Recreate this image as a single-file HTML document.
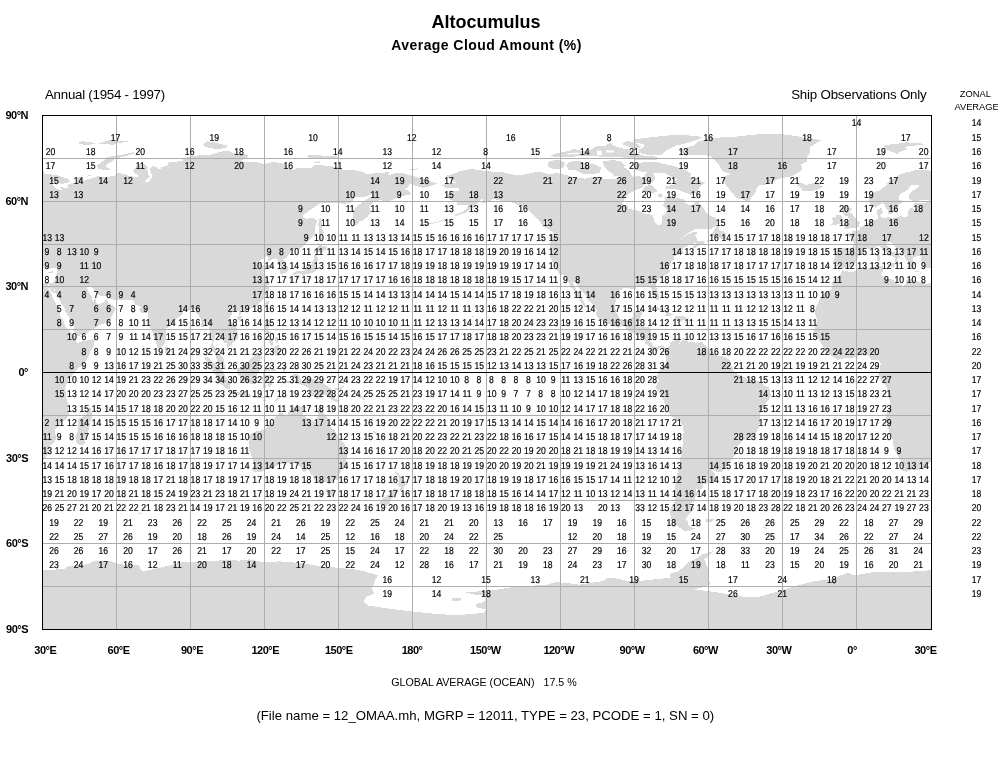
<!DOCTYPE html>
<html lang="en"><head><meta charset="utf-8"><title>Altocumulus - Average Cloud Amount</title>
<style>
html,body{margin:0;padding:0;background:#fff;}
body{width:998px;height:760px;overflow:hidden;position:relative;}
svg{position:absolute;left:0;top:0;display:block;will-change:transform;}
text{font-family:"Liberation Sans",sans-serif;fill:#000;}
.n{font-size:10px;text-anchor:middle;text-rendering:geometricPrecision;stroke:#000;stroke-width:0.2px;}
.b{font-weight:bold;font-size:11px;letter-spacing:-0.5px;}
.land{fill:#d9d9d9;stroke:none;shape-rendering:crispEdges;}
.g{stroke:#adadad;stroke-width:1;shape-rendering:crispEdges;}
.k{stroke:#000;stroke-width:1;shape-rendering:crispEdges;fill:none;}
</style></head>
<body>
<svg width="998" height="760" viewBox="0 0 998 760">
<defs><clipPath id="mapclip"><rect x="42.5" y="115.5" width="889.0" height="514.0"/></clipPath></defs>
<g clip-path="url(#mapclip)" class="land">
<polygon points="-46.1,270.3 -36.4,272.3 -34.0,271.7 -29.0,268.3 -24.1,267.4 -19.2,267.7 -14.2,266.8 -9.3,266.0 -6.8,266.0 -4.4,266.8 -5.6,268.6 -4.9,271.1 -6.6,274.6 -4.4,276.8 -1.9,278.8 1.1,278.6 5.5,280.0 6.7,282.6 11.7,284.3 15.4,286.0 17.8,284.0 18.1,280.6 21.5,278.6 25.2,279.4 30.2,281.7 35.1,283.1 40.0,284.3 42.5,282.8 45.0,282.6 48.2,283.4 48.7,286.8 48.9,288.3 50.4,292.0 51.9,294.8 52.9,297.7 54.8,301.7 56.3,304.3 59.5,309.7 60.3,312.5 60.5,316.2 63.5,321.1 65.4,327.4 69.6,331.1 73.3,334.8 75.3,336.8 75.1,339.7 77.0,342.5 79.5,342.5 84.4,340.8 89.4,340.2 94.8,338.8 94.5,342.5 93.1,346.8 90.6,351.1 88.1,356.8 85.7,361.1 82.0,365.4 80.2,366.8 75.8,371.1 73.3,373.9 70.9,377.6 68.4,379.9 67.2,382.5 65.9,385.9 64.7,389.6 65.7,392.5 65.9,396.8 67.2,401.6 68.4,403.9 68.4,409.6 68.9,415.3 65.9,419.6 61.0,422.5 58.5,426.2 54.8,429.3 55.3,433.9 56.1,439.6 53.6,443.0 49.9,445.3 49.4,449.6 48.4,454.2 45.7,457.3 42.5,461.6 38.8,465.6 35.1,468.2 31.9,469.6 26.5,469.9 22.8,470.2 17.8,471.9 14.1,470.4 13.4,466.2 13.6,462.4 11.2,458.2 9.2,454.2 6.0,449.6 5.3,443.9 4.3,437.9 1.8,432.5 -0.7,425.3 -2.4,421.0 -1.9,415.3 1.6,408.2 2.5,403.9 1.1,398.2 0.1,392.5 -1.2,389.6 -1.4,386.8 -3.1,383.9 -6.8,380.5 -8.8,376.8 -9.8,374.5 -8.1,371.1 -7.6,366.8 -7.3,363.4 -8.1,361.1 -10.5,359.6 -14.2,359.9 -16.7,360.2 -19.2,355.9 -20.6,354.5 -23.1,354.2 -27.8,354.8 -31.5,356.5 -36.4,358.8 -39.4,357.9 -41.4,357.7 -46.3,358.8 -50.0,359.9 -53.7,357.7 -58.1,354.5 -62.3,351.1 -64.1,348.2 -65.3,345.4 -68.0,341.7 -69.7,339.1 -72.7,337.1 -72.9,334.0 -74.7,330.5 -72.2,326.8 -71.0,321.1 -71.7,316.8 -73.4,312.5 -72.2,308.2 -71.0,304.8 -68.3,299.7 -67.0,297.4 -64.1,293.4 -59.9,291.7 -56.7,289.1 -55.4,285.7 -55.7,282.6 -53.7,278.8 -50.2,276.6 -48.3,275.1 -46.3,271.7"/>
<polygon points="841.9,270.3 851.6,272.3 854.0,271.7 859.0,268.3 863.9,267.4 868.8,267.7 873.8,266.8 878.7,266.0 881.2,266.0 883.6,266.8 882.4,268.6 883.1,271.1 881.4,274.6 883.6,276.8 886.1,278.8 889.1,278.6 893.5,280.0 894.7,282.6 899.7,284.3 903.4,286.0 905.8,284.0 906.1,280.6 909.5,278.6 913.2,279.4 918.2,281.7 923.1,283.1 928.0,284.3 930.5,282.8 933.0,282.6 936.2,283.4 936.7,286.8 936.9,288.3 938.4,292.0 939.9,294.8 940.9,297.7 942.8,301.7 944.3,304.3 947.5,309.7 948.3,312.5 948.5,316.2 951.5,321.1 953.4,327.4 957.6,331.1 961.3,334.8 963.3,336.8 963.1,339.7 965.0,342.5 967.5,342.5 972.4,340.8 977.4,340.2 982.8,338.8 982.5,342.5 981.1,346.8 978.6,351.1 976.1,356.8 973.7,361.1 970.0,365.4 968.2,366.8 963.8,371.1 961.3,373.9 958.9,377.6 956.4,379.9 955.2,382.5 953.9,385.9 952.7,389.6 953.7,392.5 953.9,396.8 955.2,401.6 956.4,403.9 956.4,409.6 956.9,415.3 953.9,419.6 949.0,422.5 946.5,426.2 942.8,429.3 943.3,433.9 944.1,439.6 941.6,443.0 937.9,445.3 937.4,449.6 936.4,454.2 933.7,457.3 930.5,461.6 926.8,465.6 923.1,468.2 919.9,469.6 914.5,469.9 910.8,470.2 905.8,471.9 902.1,470.4 901.4,466.2 901.6,462.4 899.2,458.2 897.2,454.2 894.0,449.6 893.3,443.9 892.3,437.9 889.8,432.5 887.3,425.3 885.6,421.0 886.1,415.3 889.6,408.2 890.5,403.9 889.1,398.2 888.1,392.5 886.8,389.6 886.6,386.8 884.9,383.9 881.2,380.5 879.2,376.8 878.2,374.5 879.9,371.1 880.4,366.8 880.7,363.4 879.9,361.1 877.5,359.6 873.8,359.9 871.3,360.2 868.8,355.9 867.4,354.5 864.9,354.2 860.2,354.8 856.5,356.5 851.6,358.8 848.6,357.9 846.6,357.7 841.7,358.8 838.0,359.9 834.3,357.7 829.9,354.5 825.7,351.1 823.9,348.2 822.7,345.4 820.0,341.7 818.3,339.1 815.3,337.1 815.1,334.0 813.3,330.5 815.8,326.8 817.0,321.1 816.3,316.8 814.6,312.5 815.8,308.2 817.0,304.8 819.7,299.7 821.0,297.4 823.9,293.4 828.1,291.7 831.3,289.1 832.6,285.7 832.3,282.6 834.3,278.8 837.8,276.6 839.7,275.1 841.7,271.7"/>
<polygon points="48.2,283.4 52.9,283.1 54.6,279.7 56.1,275.7 57.1,271.1 57.5,267.7 53.6,267.7 48.7,269.4 44.2,267.4 40.0,268.3 36.3,267.4 35.6,264.6 33.9,262.6 33.1,259.7 33.1,258.3 33.1,256.6 32.6,255.7 28.9,255.7 26.5,257.4 24.7,256.9 25.0,260.3 26.0,262.6 27.7,264.0 26.5,265.4 25.5,268.0 23.5,268.3 22.0,267.4 21.0,264.6 20.3,262.6 18.3,259.7 16.4,256.9 16.6,254.0 15.4,252.0 11.7,249.7 8.0,248.0 5.5,245.4 3.8,243.1 2.3,242.3 -1.2,243.1 -0.9,246.0 2.0,248.3 3.8,251.7 8.0,252.9 10.4,255.4 14.1,258.0 13.9,258.8 10.4,257.1 9.4,259.7 10.7,261.1 9.2,263.1 7.2,264.3 7.5,261.7 6.7,258.3 4.3,256.3 0.6,254.9 -1.4,253.1 -4.4,251.4 -6.1,248.3 -7.3,246.6 -9.8,245.7 -13.0,247.4 -16.7,249.4 -19.2,248.6 -21.6,248.3 -24.1,249.1 -23.9,251.4 -23.6,252.9 -26.1,254.6 -29.5,256.0 -31.5,259.7 -32.2,260.0 -31.0,261.7 -33.0,264.0 -35.9,266.3 -37.2,267.4 -42.4,267.7 -44.8,269.4 -47.0,268.3 -49.8,266.3 -53.5,266.8 -53.2,262.6 -54.9,261.7 -53.5,257.7 -53.0,254.9 -53.5,251.1 -54.2,249.4 -51.2,247.7 -46.3,248.0 -40.9,248.3 -35.9,248.6 -34.7,245.4 -34.2,242.3 -35.2,240.3 -36.9,237.7 -38.9,236.6 -42.4,235.7 -43.1,234.3 -40.1,233.1 -36.4,233.7 -35.4,233.4 -35.7,230.6 -34.5,231.4 -31.0,231.2 -27.8,229.4 -27.6,227.2 -23.6,225.7 -21.1,224.0 -19.7,221.2 -17.9,220.3 -14.2,220.0 -11.0,219.2 -10.0,218.0 -10.3,215.4 -11.5,213.7 -11.3,210.3 -10.3,209.4 -7.1,208.0 -5.4,207.7 -5.8,211.2 -4.6,212.0 -6.8,214.0 -7.6,215.4 -6.8,216.9 -4.6,218.3 -1.9,217.7 1.8,217.2 3.8,218.6 8.0,217.4 12.9,216.0 14.6,217.2 17.8,217.2 20.3,214.9 20.3,211.2 21.5,208.6 24.2,207.7 26.5,209.7 28.4,208.9 28.7,206.0 26.5,204.9 26.2,203.5 30.2,202.6 37.6,202.6 43.0,201.5 38.8,199.7 32.6,200.0 30.2,200.6 25.2,201.5 22.8,200.0 21.0,198.3 21.5,194.0 23.5,191.7 28.9,188.0 30.9,186.6 30.9,185.2 28.2,184.6 24.0,184.6 21.5,186.9 20.3,189.2 17.8,190.9 14.1,192.9 11.4,195.5 10.9,198.3 10.9,199.5 14.1,200.9 15.4,201.7 13.4,203.2 10.4,205.2 9.2,207.7 8.7,210.9 7.5,212.3 4.3,212.6 3.5,214.3 0.3,214.3 -0.7,212.0 0.1,210.6 -2.1,208.0 -3.9,204.3 -5.4,203.2 -5.4,201.5 -6.1,203.5 -8.1,204.6 -11.3,206.6 -14.2,206.9 -17.4,204.9 -18.7,202.6 -19.2,199.7 -19.2,196.9 -18.7,194.9 -15.5,193.2 -11.8,191.5 -8.1,190.6 -5.6,188.3 -1.9,185.5 0.1,182.6 3.0,180.3 5.5,178.3 9.2,176.3 12.9,174.0 17.8,172.6 22.8,171.5 27.7,170.0 32.1,169.5 37.6,169.8 42.5,170.9 45.0,171.8 43.7,173.2 49.9,174.3 57.3,175.2 63.5,177.2 68.4,179.2 69.9,181.7 67.2,183.2 62.2,183.7 56.1,182.6 49.9,181.7 48.7,180.9 52.4,183.5 54.3,186.9 56.1,188.6 61.0,190.0 62.2,189.2 59.8,186.9 63.5,187.5 68.4,188.3 67.2,185.5 72.1,182.9 77.0,183.5 77.5,181.2 76.5,177.8 79.5,176.9 83.2,178.3 83.2,181.2 86.9,179.5 93.1,177.8 99.2,176.0 102.9,177.5 109.1,176.6 114.0,176.0 116.5,173.5 119.0,173.2 126.4,174.6 128.8,176.0 133.8,176.6 137.5,177.5 138.7,175.8 135.0,173.5 133.3,170.3 135.0,168.3 138.0,164.6 139.9,163.8 144.9,164.3 147.8,166.9 147.3,169.8 148.1,174.0 149.8,176.9 146.1,179.8 144.9,182.6 148.6,181.7 151.0,178.9 152.3,176.0 151.0,172.6 149.8,169.2 152.3,166.0 156.0,166.9 158.4,169.2 160.9,169.2 160.9,166.9 167.1,166.0 168.3,162.6 175.7,161.8 183.1,160.6 183.1,158.3 190.5,156.6 200.4,155.2 210.2,154.6 217.6,152.6 225.0,150.6 230.0,151.5 234.9,153.5 244.8,154.1 248.5,156.0 244.8,158.9 239.8,161.2 247.2,162.0 259.6,162.6 263.3,164.0 271.9,162.3 279.3,162.6 285.5,164.6 287.9,168.3 292.9,169.8 296.6,168.3 304.0,168.0 311.4,168.3 313.8,165.8 316.3,164.6 328.6,166.0 338.5,167.2 343.4,169.8 353.3,169.8 363.2,172.0 365.6,174.0 373.0,173.5 382.9,172.6 389.1,172.3 387.8,175.5 395.2,173.2 402.6,173.2 410.0,175.2 412.5,175.8 422.4,178.9 429.8,181.2 437.7,183.7 432.2,185.5 423.6,188.0 415.0,185.5 410.0,183.5 407.6,187.7 405.1,188.6 410.0,192.0 411.3,194.3 402.6,196.0 395.2,198.3 389.1,201.2 380.4,200.3 374.3,201.5 371.3,204.0 369.3,207.4 371.3,212.0 368.1,216.0 363.2,220.6 359.5,221.4 355.0,226.9 353.3,222.6 353.3,216.9 352.3,211.2 355.8,207.4 361.9,202.6 365.6,199.7 371.8,196.9 371.8,194.0 364.4,196.9 355.8,196.9 350.8,202.6 343.4,204.0 336.0,202.6 326.2,203.2 320.0,203.5 313.8,207.4 307.7,211.7 302.2,216.0 306.4,218.9 312.6,217.7 316.8,220.6 316.3,224.0 315.1,226.9 315.1,232.6 312.6,236.9 308.9,240.6 304.0,245.4 299.0,249.7 294.1,249.1 290.9,251.7 288.4,255.4 286.7,257.4 283.0,259.7 285.5,262.6 287.7,266.8 287.7,270.3 286.7,272.3 283.0,273.4 280.3,274.0 280.0,270.3 281.0,266.8 278.1,264.6 276.8,262.0 278.1,259.4 275.1,258.3 270.7,260.3 267.7,261.7 268.9,258.3 267.0,256.0 263.3,258.8 259.1,261.1 259.6,263.4 262.0,266.0 265.7,264.6 270.7,265.7 269.4,267.4 265.2,269.7 262.8,272.6 265.0,275.4 266.7,278.8 269.2,282.0 269.2,284.3 265.7,286.0 269.4,287.4 268.7,291.1 266.2,293.1 263.8,298.3 262.0,300.5 259.6,302.8 256.4,306.0 252.2,307.7 250.2,308.8 248.5,309.4 244.8,310.5 241.1,312.0 240.8,314.5 239.3,314.5 239.1,311.1 236.1,310.5 232.4,312.5 231.7,314.5 229.2,318.2 231.2,321.7 233.7,325.4 235.6,326.8 237.4,329.7 238.1,335.4 237.9,338.2 236.9,340.2 232.9,342.8 231.7,344.8 228.7,347.1 227.0,347.9 227.3,343.9 224.5,342.5 222.3,339.4 220.8,337.7 217.6,336.2 217.4,334.0 215.2,334.2 214.9,338.2 213.4,342.5 213.4,346.2 215.7,348.5 216.4,351.9 218.9,353.1 221.3,355.4 223.6,359.1 223.6,362.5 224.8,365.4 225.8,368.5 223.6,368.5 220.1,365.9 218.4,364.2 216.9,361.1 216.2,356.8 215.2,353.9 213.2,351.1 211.0,349.7 211.0,346.8 211.7,342.5 211.5,338.2 210.7,334.0 209.5,329.7 209.2,325.7 207.3,324.2 203.8,327.1 201.1,326.8 201.6,322.5 200.9,318.8 199.1,316.0 196.7,313.4 195.4,310.5 194.9,308.5 191.7,308.8 188.0,310.2 185.6,310.5 183.1,311.7 182.6,314.0 180.6,316.0 178.2,317.4 175.7,320.2 173.7,322.5 171.5,324.8 168.8,326.8 166.3,328.2 166.1,332.5 166.6,335.4 165.6,339.7 165.3,343.1 163.4,345.4 161.4,347.1 159.7,349.4 157.2,346.8 156.5,343.9 154.7,339.1 153.0,335.4 152.3,331.1 150.5,328.2 149.1,324.0 148.3,318.2 147.8,314.0 147.6,311.1 146.6,312.5 143.6,313.4 141.2,312.5 138.7,309.1 141.9,307.1 137.5,305.4 135.0,304.3 133.8,301.7 132.5,300.0 127.6,300.3 121.4,300.5 116.5,300.0 112.8,299.4 109.8,298.8 108.6,295.4 104.2,296.3 100.5,296.0 96.8,293.4 94.3,291.1 93.1,288.3 90.6,286.3 88.9,286.0 86.9,287.4 87.9,290.8 89.4,294.0 91.8,296.5 92.3,299.7 93.8,301.7 94.5,298.5 95.8,299.1 95.5,302.3 96.8,303.7 100.5,303.7 102.9,302.8 105.4,300.0 107.1,297.7 107.6,301.1 109.1,304.0 112.8,305.1 116.0,308.2 113.5,313.4 111.1,318.2 109.1,321.1 105.4,323.1 101.7,324.0 97.3,326.8 91.8,329.7 88.1,332.5 83.2,334.2 79.5,335.9 76.0,336.2 75.1,334.0 74.1,330.0 73.8,325.7 72.1,322.5 70.1,319.1 67.9,315.4 65.2,311.4 64.2,306.8 61.0,303.1 58.5,298.3 56.1,293.7 54.3,292.5 54.8,288.3 53.6,292.5 53.1,293.1 51.1,291.1 49.4,287.4"/>
<polygon points="936.2,283.4 940.9,283.1 942.6,279.7 944.1,275.7 945.1,271.1 945.5,267.7 941.6,267.7 936.7,269.4 932.2,267.4 928.0,268.3 924.3,267.4 923.6,264.6 921.9,262.6 921.1,259.7 921.1,258.3 921.1,256.6 920.6,255.7 916.9,255.7 914.5,257.4 912.7,256.9 913.0,260.3 914.0,262.6 915.7,264.0 914.5,265.4 913.5,268.0 911.5,268.3 910.0,267.4 909.0,264.6 908.3,262.6 906.3,259.7 904.4,256.9 904.6,254.0 903.4,252.0 899.7,249.7 896.0,248.0 893.5,245.4 891.8,243.1 890.3,242.3 886.8,243.1 887.1,246.0 890.0,248.3 891.8,251.7 896.0,252.9 898.4,255.4 902.1,258.0 901.9,258.8 898.4,257.1 897.4,259.7 898.7,261.1 897.2,263.1 895.2,264.3 895.5,261.7 894.7,258.3 892.3,256.3 888.6,254.9 886.6,253.1 883.6,251.4 881.9,248.3 880.7,246.6 878.2,245.7 875.0,247.4 871.3,249.4 868.8,248.6 866.4,248.3 863.9,249.1 864.1,251.4 864.4,252.9 861.9,254.6 858.5,256.0 856.5,259.7 855.8,260.0 857.0,261.7 855.0,264.0 852.1,266.3 850.8,267.4 845.6,267.7 843.2,269.4 841.0,268.3 838.2,266.3 834.5,266.8 834.8,262.6 833.1,261.7 834.5,257.7 835.0,254.9 834.5,251.1 833.8,249.4 836.8,247.7 841.7,248.0 847.1,248.3 852.1,248.6 853.3,245.4 853.8,242.3 852.8,240.3 851.1,237.7 849.1,236.6 845.6,235.7 844.9,234.3 847.9,233.1 851.6,233.7 852.6,233.4 852.3,230.6 853.5,231.4 857.0,231.2 860.2,229.4 860.4,227.2 864.4,225.7 866.9,224.0 868.3,221.2 870.1,220.3 873.8,220.0 877.0,219.2 878.0,218.0 877.7,215.4 876.5,213.7 876.7,210.3 877.7,209.4 880.9,208.0 882.6,207.7 882.2,211.2 883.4,212.0 881.2,214.0 880.4,215.4 881.2,216.9 883.4,218.3 886.1,217.7 889.8,217.2 891.8,218.6 896.0,217.4 900.9,216.0 902.6,217.2 905.8,217.2 908.3,214.9 908.3,211.2 909.5,208.6 912.2,207.7 914.5,209.7 916.4,208.9 916.7,206.0 914.5,204.9 914.2,203.5 918.2,202.6 925.6,202.6 931.0,201.5 926.8,199.7 920.6,200.0 918.2,200.6 913.2,201.5 910.8,200.0 909.0,198.3 909.5,194.0 911.5,191.7 916.9,188.0 918.9,186.6 918.9,185.2 916.2,184.6 912.0,184.6 909.5,186.9 908.3,189.2 905.8,190.9 902.1,192.9 899.4,195.5 898.9,198.3 898.9,199.5 902.1,200.9 903.4,201.7 901.4,203.2 898.4,205.2 897.2,207.7 896.7,210.9 895.5,212.3 892.3,212.6 891.5,214.3 888.3,214.3 887.3,212.0 888.1,210.6 885.9,208.0 884.1,204.3 882.6,203.2 882.6,201.5 881.9,203.5 879.9,204.6 876.7,206.6 873.8,206.9 870.6,204.9 869.3,202.6 868.8,199.7 868.8,196.9 869.3,194.9 872.5,193.2 876.2,191.5 879.9,190.6 882.4,188.3 886.1,185.5 888.1,182.6 891.0,180.3 893.5,178.3 897.2,176.3 900.9,174.0 905.8,172.6 910.8,171.5 915.7,170.0 920.1,169.5 925.6,169.8 930.5,170.9 933.0,171.8 931.7,173.2 937.9,174.3 945.3,175.2 951.5,177.2 956.4,179.2 957.9,181.7 955.2,183.2 950.2,183.7 944.1,182.6 937.9,181.7 936.7,180.9 940.4,183.5 942.3,186.9 944.1,188.6 949.0,190.0 950.2,189.2 947.8,186.9 951.5,187.5 956.4,188.3 955.2,185.5 960.1,182.9 965.0,183.5 965.5,181.2 964.5,177.8 967.5,176.9 971.2,178.3 971.2,181.2 974.9,179.5 981.1,177.8 987.2,176.0 990.9,177.5 997.1,176.6 1002.0,176.0 1004.5,173.5 1007.0,173.2 1014.4,174.6 1016.8,176.0 1021.8,176.6 1025.5,177.5 1026.7,175.8 1023.0,173.5 1021.3,170.3 1023.0,168.3 1026.0,164.6 1027.9,163.8 1032.9,164.3 1035.8,166.9 1035.3,169.8 1036.1,174.0 1037.8,176.9 1034.1,179.8 1032.9,182.6 1036.6,181.7 1039.0,178.9 1040.3,176.0 1039.0,172.6 1037.8,169.2 1040.3,166.0 1044.0,166.9 1046.4,169.2 1048.9,169.2 1048.9,166.9 1055.1,166.0 1056.3,162.6 1063.7,161.8 1071.1,160.6 1071.1,158.3 1078.5,156.6 1088.4,155.2 1098.2,154.6 1105.6,152.6 1113.0,150.6 1118.0,151.5 1122.9,153.5 1132.8,154.1 1136.5,156.0 1132.8,158.9 1127.8,161.2 1135.2,162.0 1147.6,162.6 1151.3,164.0 1159.9,162.3 1167.3,162.6 1173.5,164.6 1175.9,168.3 1180.9,169.8 1184.6,168.3 1192.0,168.0 1199.4,168.3 1201.8,165.8 1204.3,164.6 1216.6,166.0 1226.5,167.2 1231.4,169.8 1241.3,169.8 1251.2,172.0 1253.6,174.0 1261.0,173.5 1270.9,172.6 1277.1,172.3 1275.8,175.5 1283.2,173.2 1290.6,173.2 1298.0,175.2 1300.5,175.8 1310.4,178.9 1317.8,181.2 1325.7,183.7 1320.2,185.5 1311.6,188.0 1303.0,185.5 1298.0,183.5 1295.6,187.7 1293.1,188.6 1298.0,192.0 1299.3,194.3 1290.6,196.0 1283.2,198.3 1277.1,201.2 1268.4,200.3 1262.3,201.5 1259.3,204.0 1257.3,207.4 1259.3,212.0 1256.1,216.0 1251.2,220.6 1247.5,221.4 1243.0,226.9 1241.3,222.6 1241.3,216.9 1240.3,211.2 1243.8,207.4 1249.9,202.6 1253.6,199.7 1259.8,196.9 1259.8,194.0 1252.4,196.9 1243.8,196.9 1238.8,202.6 1231.4,204.0 1224.0,202.6 1214.2,203.2 1208.0,203.5 1201.8,207.4 1195.7,211.7 1190.2,216.0 1194.4,218.9 1200.6,217.7 1204.8,220.6 1204.3,224.0 1203.1,226.9 1203.1,232.6 1200.6,236.9 1196.9,240.6 1192.0,245.4 1187.0,249.7 1182.1,249.1 1178.9,251.7 1176.4,255.4 1174.7,257.4 1171.0,259.7 1173.5,262.6 1175.7,266.8 1175.7,270.3 1174.7,272.3 1171.0,273.4 1168.3,274.0 1168.0,270.3 1169.0,266.8 1166.1,264.6 1164.8,262.0 1166.1,259.4 1163.1,258.3 1158.7,260.3 1155.7,261.7 1156.9,258.3 1155.0,256.0 1151.3,258.8 1147.1,261.1 1147.6,263.4 1150.0,266.0 1153.7,264.6 1158.7,265.7 1157.4,267.4 1153.2,269.7 1150.8,272.6 1153.0,275.4 1154.7,278.8 1157.2,282.0 1157.2,284.3 1153.7,286.0 1157.4,287.4 1156.7,291.1 1154.2,293.1 1151.8,298.3 1150.0,300.5 1147.6,302.8 1144.4,306.0 1140.2,307.7 1138.2,308.8 1136.5,309.4 1132.8,310.5 1129.1,312.0 1128.8,314.5 1127.3,314.5 1127.1,311.1 1124.1,310.5 1120.4,312.5 1119.7,314.5 1117.2,318.2 1119.2,321.7 1121.7,325.4 1123.6,326.8 1125.4,329.7 1126.1,335.4 1125.9,338.2 1124.9,340.2 1120.9,342.8 1119.7,344.8 1116.7,347.1 1115.0,347.9 1115.3,343.9 1112.5,342.5 1110.3,339.4 1108.8,337.7 1105.6,336.2 1105.4,334.0 1103.2,334.2 1102.9,338.2 1101.4,342.5 1101.4,346.2 1103.7,348.5 1104.4,351.9 1106.9,353.1 1109.3,355.4 1111.6,359.1 1111.6,362.5 1112.8,365.4 1113.8,368.5 1111.6,368.5 1108.1,365.9 1106.4,364.2 1104.9,361.1 1104.2,356.8 1103.2,353.9 1101.2,351.1 1099.0,349.7 1099.0,346.8 1099.7,342.5 1099.5,338.2 1098.7,334.0 1097.5,329.7 1097.2,325.7 1095.3,324.2 1091.8,327.1 1089.1,326.8 1089.6,322.5 1088.9,318.8 1087.1,316.0 1084.7,313.4 1083.4,310.5 1082.9,308.5 1079.7,308.8 1076.0,310.2 1073.6,310.5 1071.1,311.7 1070.6,314.0 1068.6,316.0 1066.2,317.4 1063.7,320.2 1061.7,322.5 1059.5,324.8 1056.8,326.8 1054.3,328.2 1054.1,332.5 1054.6,335.4 1053.6,339.7 1053.3,343.1 1051.4,345.4 1049.4,347.1 1047.7,349.4 1045.2,346.8 1044.5,343.9 1042.7,339.1 1041.0,335.4 1040.3,331.1 1038.5,328.2 1037.1,324.0 1036.3,318.2 1035.8,314.0 1035.6,311.1 1034.6,312.5 1031.6,313.4 1029.2,312.5 1026.7,309.1 1029.9,307.1 1025.5,305.4 1023.0,304.3 1021.8,301.7 1020.5,300.0 1015.6,300.3 1009.4,300.5 1004.5,300.0 1000.8,299.4 997.8,298.8 996.6,295.4 992.2,296.3 988.5,296.0 984.8,293.4 982.3,291.1 981.1,288.3 978.6,286.3 976.9,286.0 974.9,287.4 975.9,290.8 977.4,294.0 979.8,296.5 980.3,299.7 981.8,301.7 982.5,298.5 983.8,299.1 983.5,302.3 984.8,303.7 988.5,303.7 990.9,302.8 993.4,300.0 995.1,297.7 995.6,301.1 997.1,304.0 1000.8,305.1 1004.0,308.2 1001.5,313.4 999.1,318.2 997.1,321.1 993.4,323.1 989.7,324.0 985.3,326.8 979.8,329.7 976.1,332.5 971.2,334.2 967.5,335.9 964.0,336.2 963.1,334.0 962.1,330.0 961.8,325.7 960.1,322.5 958.1,319.1 955.9,315.4 953.2,311.4 952.2,306.8 949.0,303.1 946.5,298.3 944.1,293.7 942.3,292.5 942.8,288.3 941.6,292.5 941.1,293.1 939.1,291.1 937.4,287.4"/>
<polygon points="470.5,168.9 481.6,170.3 491.4,171.5 503.8,172.3 508.7,173.8 518.6,175.5 526.0,174.0 533.4,172.6 540.8,171.8 548.2,174.0 558.0,173.2 567.9,175.5 575.3,177.8 585.2,178.6 590.1,177.5 597.5,176.9 604.9,178.9 614.8,178.9 619.7,177.5 622.2,174.0 618.5,168.9 623.4,166.9 629.6,171.2 630.8,174.0 633.3,176.9 639.4,176.0 644.4,178.3 645.6,173.2 653.0,173.5 655.5,176.9 654.2,181.2 649.3,183.2 643.1,183.2 644.4,185.5 640.7,188.3 637.0,189.7 633.3,191.2 628.3,194.0 624.6,198.3 622.7,202.6 623.4,204.9 627.1,204.9 628.3,209.2 634.5,209.7 639.4,211.2 645.6,214.0 653.0,214.9 653.7,219.7 655.5,222.6 657.9,225.4 660.4,225.4 662.1,221.7 661.6,216.9 665.3,214.0 667.3,209.7 662.9,204.9 665.3,201.2 664.1,196.6 669.0,196.6 675.2,197.5 681.4,198.9 685.1,199.7 685.1,202.6 688.8,205.4 693.7,204.6 696.7,200.3 699.9,204.0 703.6,208.3 706.0,212.6 709.7,215.4 714.7,217.4 718.4,220.6 718.9,224.0 715.9,225.7 711.0,228.9 703.6,229.2 696.2,229.2 691.2,231.2 686.3,234.6 682.6,237.7 680.9,238.9 685.1,236.3 691.2,232.6 696.2,232.0 697.9,233.1 694.9,235.4 696.7,238.3 697.4,240.6 703.6,241.4 706.0,242.9 707.3,239.7 708.5,241.4 704.8,243.4 699.9,245.1 694.9,248.0 693.2,247.4 693.7,244.6 697.4,242.9 691.2,244.0 687.5,246.0 683.3,248.0 681.9,250.9 683.8,252.6 683.8,253.4 680.1,254.3 675.2,255.7 674.0,256.9 673.5,259.7 671.5,261.4 670.3,264.0 669.0,266.8 669.5,269.7 670.3,271.7 667.8,273.4 664.3,275.4 661.6,277.4 657.9,280.6 656.2,283.4 655.7,286.0 657.7,291.1 658.9,296.0 658.7,300.0 656.7,300.5 654.7,297.7 652.5,293.4 652.3,289.7 649.3,286.8 645.6,287.4 641.4,285.7 638.2,286.0 635.7,286.3 636.2,289.4 632.5,289.1 628.3,288.0 624.6,288.0 622.2,289.1 618.5,291.7 616.5,294.0 616.5,298.3 615.5,302.5 615.3,308.2 616.5,312.5 618.5,316.0 619.7,318.2 622.2,319.4 623.9,320.5 628.3,319.4 630.8,319.1 632.8,316.8 633.5,312.5 638.2,311.1 641.9,311.1 642.4,314.0 640.4,316.8 639.9,320.2 638.7,322.5 638.0,326.8 639.4,327.4 644.4,327.1 649.3,327.4 651.0,329.7 650.3,334.0 650.3,338.2 649.8,341.1 651.8,343.9 653.7,346.2 656.7,347.4 659.7,345.7 662.1,345.4 665.3,347.7 665.8,348.2 664.6,351.7 663.4,348.8 660.4,347.1 658.4,349.1 658.4,351.4 655.5,350.8 652.3,349.1 650.0,347.9 647.3,344.5 644.9,343.4 644.9,340.5 641.9,336.2 639.9,334.5 635.7,334.0 631.3,332.8 628.3,330.5 624.6,326.5 622.2,326.2 618.5,327.7 613.5,326.0 610.1,324.5 605.4,321.7 601.2,320.2 597.5,316.8 596.0,314.0 596.8,311.1 595.0,307.4 591.3,303.1 587.6,299.7 586.4,296.0 583.7,293.1 579.7,289.7 577.8,285.4 576.5,283.1 573.3,282.0 573.6,285.4 576.5,289.7 578.5,293.1 580.7,296.8 583.4,301.1 584.7,303.4 586.4,306.5 584.7,306.8 581.5,302.8 579.7,298.8 576.5,296.0 574.1,293.7 574.8,291.1 571.6,288.0 569.6,284.0 567.7,279.7 564.4,275.7 559.3,274.0 556.1,268.3 554.3,264.6 551.1,259.7 549.9,257.1 550.4,252.6 549.9,248.3 550.6,240.6 549.2,234.3 553.1,234.0 552.6,232.0 548.7,229.2 543.2,226.9 541.3,223.4 538.3,219.7 535.3,216.9 532.1,214.0 528.4,209.7 523.5,206.0 519.8,206.0 516.1,204.0 511.2,202.0 503.8,201.2 497.6,200.0 492.7,198.6 490.2,201.2 486.5,202.9 482.1,203.5 482.8,199.2 486.5,197.7 480.3,199.7 476.6,203.5 476.1,206.3 470.5,209.7 465.5,212.6 459.9,214.6 454.4,216.3 456.9,214.0 461.8,212.0 466.8,208.9 468.0,204.9 461.8,204.9 456.9,204.9 456.9,201.7 450.7,200.3 448.3,196.9 447.0,194.9 450.0,192.6 455.7,191.2 459.4,190.3 459.4,187.7 454.4,188.3 445.8,188.3 442.1,185.2 447.0,183.2 453.2,182.6 456.9,183.5 452.5,180.3 448.3,177.8 445.8,175.8 453.2,174.0 458.1,171.8 465.5,170.0"/>
<polygon points="665.8,348.2 667.1,349.7 669.5,345.7 670.3,342.5 672.0,341.1 675.9,340.2 678.9,337.9 680.6,337.1 680.1,341.1 679.4,343.9 682.6,339.7 683.8,337.9 686.8,340.2 688.8,342.5 693.7,342.2 697.4,343.4 702.3,341.9 703.8,341.9 702.3,343.9 706.0,345.4 707.3,348.2 711.0,349.7 712.9,353.1 715.9,355.7 720.3,355.7 724.5,356.8 727.5,358.5 730.0,360.5 731.2,365.4 733.2,368.2 733.2,371.1 736.9,373.4 738.1,374.5 741.8,375.4 746.7,378.8 750.4,379.4 754.1,380.8 757.8,380.5 761.5,383.1 764.7,385.9 768.9,387.3 770.2,391.1 770.7,395.3 768.9,399.6 766.5,402.5 764.5,405.3 761.5,409.6 760.3,413.9 760.3,418.2 759.8,423.0 758.6,428.2 757.1,430.5 755.4,434.8 752.9,437.9 749.9,438.2 746.2,439.0 742.3,441.0 738.6,444.5 736.9,446.7 736.6,451.0 735.6,454.7 733.2,457.6 730.2,461.9 728.0,464.4 724.8,468.7 721.1,472.2 717.9,472.2 713.9,470.7 712.4,469.6 712.4,471.3 715.4,473.9 715.4,476.2 716.6,477.6 714.4,481.0 711.0,483.0 706.0,483.6 703.1,483.3 703.1,488.2 699.1,490.1 696.2,489.0 695.9,492.4 699.4,493.0 697.9,495.0 695.4,496.7 694.9,501.0 691.2,502.7 690.0,505.3 693.7,507.6 694.2,509.3 690.0,513.9 687.5,516.1 685.8,519.6 687.8,521.8 688.0,523.8 689.5,526.1 692.5,528.1 695.7,528.7 692.5,529.8 687.5,531.0 683.8,530.4 680.1,528.1 676.4,525.3 672.7,522.4 671.0,518.1 670.3,513.9 670.3,509.6 672.2,506.1 674.5,502.4 675.2,498.1 673.5,495.9 674.5,491.9 674.7,486.7 675.9,482.4 675.0,478.7 676.4,477.0 677.7,472.4 679.6,467.3 680.1,461.0 680.6,456.7 681.4,451.0 682.6,445.3 682.8,439.6 683.6,432.5 683.1,425.3 680.6,422.5 677.2,420.2 672.7,417.3 669.0,413.0 668.3,411.1 666.3,407.1 664.1,401.6 662.4,397.6 660.4,393.9 657.9,390.5 656.5,389.1 656.0,385.4 658.4,382.2 659.4,379.6 656.9,378.8 657.2,375.4 658.9,372.5 659.2,370.2 661.6,369.1 662.1,367.4 665.3,364.8 666.1,361.6 665.6,356.8 665.3,353.4 664.3,351.9"/>
<polygon points="678.9,149.8 693.7,145.5 698.6,141.2 713.4,137.8 733.2,136.9 757.8,134.3 777.6,133.8 797.3,136.1 807.2,138.9 822.0,139.8 814.6,144.1 809.6,147.5 809.6,152.6 807.2,156.9 807.2,161.2 801.0,164.6 802.2,168.3 801.0,171.2 797.3,172.6 792.4,176.0 785.0,177.5 777.6,178.9 772.6,182.6 765.2,184.9 759.1,185.5 756.6,188.3 755.4,192.6 751.7,196.9 749.9,200.6 746.7,201.5 743.0,199.2 736.9,198.3 733.2,194.0 729.5,189.7 725.8,184.6 724.0,181.2 724.5,176.9 730.7,174.0 723.3,171.8 720.8,168.3 718.4,164.0 714.7,159.8 711.0,156.0 701.1,154.9 691.2,155.5 683.8,154.1 680.1,151.8"/>
<polygon points="796.6,185.5 801.0,182.9 806.4,184.9 812.1,183.5 817.0,182.6 820.5,184.6 823.0,186.9 819.5,188.9 812.1,191.2 805.9,191.2 801.0,190.0 802.2,188.3 797.3,187.2 801.0,186.3"/>
<polygon points="842.4,229.4 847.9,228.9 852.8,227.7 857.7,227.4 860.0,226.3 858.5,225.4 860.7,222.0 857.2,221.2 856.5,219.4 854.0,216.9 852.8,214.9 851.6,212.9 849.1,212.6 850.3,211.2 851.6,208.3 847.9,207.7 846.6,208.0 848.4,205.2 844.2,205.2 842.2,208.3 842.2,211.2 842.9,214.0 844.7,215.4 844.4,216.3 847.9,215.7 848.6,218.3 849.1,220.0 845.4,220.3 845.9,222.0 845.9,223.4 843.7,224.6 846.6,225.2 849.1,226.0 846.1,226.6"/>
<polygon points="841.2,223.4 841.7,219.7 842.9,216.9 840.5,214.9 836.3,214.9 835.5,217.2 831.8,217.7 831.8,220.0 833.6,220.9 832.3,223.4 831.3,224.6 833.1,225.4 836.8,224.6"/>
<polygon points="291.4,275.4 295.3,274.6 300.3,273.4 302.0,274.6 303.2,276.8 305.9,274.0 309.4,273.7 310.9,272.6 313.3,272.6 315.8,270.6 316.3,266.8 316.3,263.1 318.5,259.7 317.5,256.9 317.0,254.3 314.6,254.9 313.8,258.3 313.3,261.1 310.9,264.6 307.2,267.4 306.4,265.4 305.7,267.4 304.0,270.6 301.5,270.8 296.6,271.1 292.9,273.4"/>
<polygon points="291.4,275.7 293.4,277.7 292.9,281.1 291.6,283.1 289.7,283.4 289.7,279.7 288.4,278.3 289.2,276.8"/>
<polygon points="295.3,275.7 299.5,274.6 300.8,276.0 299.5,277.4 296.6,278.8"/>
<polygon points="313.8,254.0 316.3,251.7 321.7,252.6 324.9,249.7 327.6,248.9 326.2,246.3 321.2,245.4 318.5,242.6 317.8,245.4 317.0,249.1 314.6,249.1 313.8,251.7"/>
<polygon points="318.8,241.4 322.5,238.9 321.2,235.4 323.7,232.6 321.7,228.3 322.0,224.0 320.7,217.4 319.3,219.7 318.3,224.0 319.0,229.7 318.8,235.4"/>
<polygon points="267.0,300.5 269.2,301.1 268.0,306.3 266.5,309.7 264.7,306.8 265.0,304.0"/>
<polygon points="236.6,317.4 239.8,315.4 242.3,316.5 240.8,320.0 238.1,320.5"/>
<polygon points="165.8,344.5 168.8,348.2 170.3,351.9 169.0,354.8 166.3,355.4 165.1,351.1"/>
<polygon points="90.1,406.8 92.6,416.2 90.6,421.0 89.4,426.8 86.9,435.3 84.4,443.9 80.7,445.3 77.0,443.9 75.3,436.8 77.8,431.0 77.5,425.3 78.3,419.0 82.0,417.3 85.7,414.8 88.1,411.1"/>
<polygon points="203.6,356.5 209.0,357.7 212.0,361.6 216.4,366.2 218.9,367.4 222.6,370.5 224.3,374.8 226.3,377.6 230.0,381.1 230.0,389.1 226.5,389.1 220.8,383.9 217.6,380.2 215.9,375.1 212.7,371.6 211.5,367.4 207.8,363.1"/>
<polygon points="228.0,391.9 231.2,389.6 236.1,391.6 241.1,391.9 246.0,392.2 250.9,394.8 250.4,397.3 243.5,396.2 236.1,394.8 231.2,393.6"/>
<polygon points="237.4,368.2 240.6,367.6 243.0,365.4 247.2,363.4 249.7,359.6 253.4,356.8 256.6,352.8 258.8,354.2 262.5,357.7 259.6,360.2 258.8,363.9 259.6,369.6 258.3,372.5 255.9,376.8 255.9,381.1 254.6,383.9 250.9,384.2 247.2,381.6 243.5,381.9 240.3,380.5 239.8,376.8 237.4,373.4"/>
<polygon points="264.0,370.2 266.5,368.8 271.9,369.9 276.8,368.2 275.6,371.4 271.9,371.4 265.7,371.4 265.0,374.8 268.2,375.1 272.6,374.8 270.7,377.4 268.2,378.2 270.2,381.9 271.9,383.9 270.7,387.6 268.2,385.4 267.0,380.5 265.7,382.5 265.5,388.2 263.3,388.2 263.3,382.5 262.0,379.6"/>
<polygon points="291.6,374.8 295.3,373.6 299.0,374.8 301.5,381.9 307.7,377.1 312.6,378.8 316.3,379.9 322.5,382.5 327.9,386.8 332.3,389.6 333.1,392.5 330.6,393.1 334.8,398.2 339.7,401.9 336.0,401.9 331.1,399.6 327.4,395.3 323.7,394.5 321.2,398.2 316.3,398.8 312.6,395.6 308.9,396.2 310.9,393.1 308.9,388.2 302.7,385.1 297.8,383.4 296.1,383.9 294.1,380.5 298.5,378.8 294.8,378.8"/>
<polygon points="265.7,319.7 269.9,319.7 269.9,325.4 268.2,328.2 268.7,332.0 273.1,333.1 274.4,336.2 271.9,334.5 269.4,333.4 266.2,333.1 265.7,330.5 264.5,326.8"/>
<polygon points="269.4,352.5 273.1,347.9 278.1,344.5 280.5,349.7 279.8,354.5 278.1,356.2 275.1,354.5 273.1,351.1"/>
<polygon points="275.1,336.8 278.1,337.4 278.6,341.1 276.8,343.9 275.6,341.7"/>
<polygon points="269.4,338.8 272.4,339.7 273.1,343.9 271.9,346.2 270.4,344.5 269.4,342.5"/>
<polygon points="257.8,348.8 261.5,345.4 263.5,340.5 262.5,343.1 259.6,347.4"/>
<polygon points="249.9,434.8 255.9,431.3 260.8,430.5 267.0,428.2 269.9,423.9 273.1,421.0 274.4,419.0 278.1,413.9 281.8,412.2 285.0,414.8 287.9,415.0 288.7,411.1 291.1,407.9 295.3,407.1 295.8,405.1 301.5,407.1 305.9,407.3 304.0,411.1 302.7,414.8 306.4,417.6 311.4,420.5 315.8,422.5 317.5,416.8 318.0,411.1 318.3,408.2 320.0,403.3 322.5,408.2 323.2,413.3 326.9,415.3 328.6,422.5 330.6,427.3 334.8,430.2 337.3,435.3 340.5,439.6 344.7,443.9 346.4,449.6 347.4,454.5 345.9,461.0 343.4,466.2 341.5,469.3 339.0,475.3 338.3,479.6 333.6,480.7 329.4,484.2 326.2,481.9 324.9,481.9 322.5,483.3 317.5,481.9 314.6,480.2 312.6,475.3 310.1,473.9 309.1,471.0 308.4,466.7 306.4,471.0 304.0,471.9 302.7,471.0 300.3,466.7 297.8,464.2 292.9,462.4 286.7,462.7 279.3,464.7 274.4,466.7 273.1,469.3 267.0,469.3 263.3,470.7 259.6,472.4 254.6,471.9 252.2,470.4 253.9,465.3 252.7,459.6 251.2,454.7 249.7,451.0 248.5,446.7 248.5,442.5 249.0,437.3"/>
<polygon points="325.4,488.7 329.9,489.9 334.1,489.0 334.3,492.4 333.1,495.9 329.9,497.0 327.4,494.7"/>
<polygon points="394.5,470.7 398.4,473.3 401.4,476.7 402.4,479.9 405.6,481.0 408.8,480.2 407.1,484.4 405.1,485.3 403.4,489.6 400.7,491.3 399.4,490.4 400.7,487.3 397.7,485.3 397.2,484.7 399.2,482.4 399.4,478.2 398.2,476.2 395.2,472.4"/>
<polygon points="394.5,488.2 398.2,490.4 395.7,495.3 394.5,497.6 390.8,499.0 389.6,503.6 386.6,505.6 383.6,505.6 379.2,503.9 380.4,501.0 383.6,498.1 387.8,495.3 390.8,492.4 393.0,489.0"/>
<polygon points="647.1,310.0 651.8,306.8 655.5,306.5 660.4,308.2 665.3,310.5 670.3,313.1 673.5,314.8 670.3,315.7 664.8,315.7 666.1,313.7 662.9,311.1 657.9,309.7 654.2,308.2 650.5,309.1"/>
<polygon points="673.0,320.0 675.7,315.7 679.6,316.0 683.8,316.2 687.8,319.1 686.3,320.2 682.6,320.2 680.1,322.0 676.9,320.5"/>
<polygon points="663.4,320.2 666.6,319.7 668.5,321.1 666.6,321.7"/>
<polygon points="690.7,320.0 694.4,320.0 694.2,321.1 690.7,321.1"/>
<polygon points="710.2,236.0 712.2,233.4 714.7,228.3 718.6,225.4 719.6,228.3 718.4,230.3 723.3,231.2 725.8,234.0 725.8,236.9 725.3,239.1 720.8,238.6 718.4,236.9"/>
<polygon points="704.8,182.6 699.9,186.9 696.2,192.6 692.5,195.5 687.5,193.2 681.4,191.2 675.2,188.6 666.6,188.9 664.1,186.9 674.0,184.6 675.2,181.2 677.7,178.9 671.5,176.9 666.6,174.0 661.6,172.6 656.7,172.6 648.1,172.6 641.9,171.8 635.7,169.8 635.7,164.6 644.4,161.8 656.7,162.0 664.1,164.0 671.5,165.5 680.1,168.3 687.5,171.2 691.2,174.0 690.0,176.9 698.6,179.8"/>
<polygon points="661.6,154.9 665.3,151.2 670.3,148.3 676.4,145.5 688.8,142.6 697.4,139.8 703.6,136.9 688.8,135.5 671.5,135.2 654.2,136.9 641.9,138.3 632.0,139.8 634.5,142.6 644.4,144.1 644.4,146.9 639.4,149.2 638.2,152.6 646.8,154.6 656.7,154.9"/>
<polygon points="659.2,156.6 656.7,159.5 644.4,159.8 634.5,159.5 629.6,158.3 629.6,154.6 637.0,153.8 646.8,156.3"/>
<polygon points="641.9,146.9 634.5,148.9 627.1,146.1 622.2,144.1 627.1,140.6 634.5,142.6"/>
<polygon points="657.9,191.2 651.8,193.2 645.6,191.7 641.9,190.3 645.6,186.3 650.5,184.6 654.2,187.7"/>
<polygon points="883.6,148.3 891.0,151.5 897.2,153.8 900.9,151.5 908.3,148.9 903.4,146.9 910.8,146.1 923.1,144.6 920.6,143.2 905.8,142.3 896.0,144.1 884.9,144.9"/>
<polygon points="205.3,146.9 215.2,148.9 225.0,148.3 227.5,145.5 215.2,142.6 207.8,141.2 202.8,144.1"/>
<polygon points="306.4,156.9 313.8,158.9 321.2,158.3 328.6,157.5 338.5,158.3 336.0,155.5 321.2,155.5 308.9,154.9"/>
<polygon points="313.8,162.6 321.2,163.2 318.8,161.2"/>
<polygon points="408.8,169.8 417.4,168.3 415.0,170.0 410.0,170.3"/>
<polygon points="88.1,175.5 91.8,174.6 90.6,176.0"/>
<polygon points="887.1,264.0 895.0,263.1 893.7,267.7 887.3,265.1"/>
<polygon points="876.7,255.4 880.4,255.4 880.2,260.6 877.2,261.1"/>
<polygon points="877.7,250.0 879.9,249.7 879.7,254.0 878.0,253.7"/>
<polygon points="914.7,271.1 921.4,271.7 921.1,272.6 914.7,272.0"/>
<polygon points="48.2,272.3 53.6,270.8 52.4,272.8 48.7,273.7"/>
<polygon points="706.0,519.0 713.9,519.3 712.2,521.8 706.0,521.6"/>
<polygon points="762.8,526.7 767.7,528.1 766.5,529.0 762.8,527.6"/>
<polygon points="138.2,512.4 142.4,513.0 141.2,514.4 138.7,514.1"/>
<polygon points="252.2,395.9 257.1,396.2 262.0,396.5 267.0,396.5 271.9,396.2 271.4,397.6 264.5,397.9 257.1,398.2 252.7,397.6"/>
<polygon points="273.1,401.9 276.8,398.8 281.8,396.5 280.5,398.2 276.8,400.5 274.4,401.9"/>
<polygon points="262.0,399.6 266.5,400.5 264.5,401.6"/>
<polygon points="283.0,366.8 286.0,368.2 284.2,372.5 285.5,374.8 283.7,373.9 283.0,369.6"/>
<polygon points="284.2,381.1 291.1,381.6 289.2,382.8 284.7,382.5"/>
<polygon points="279.3,381.6 282.3,381.9 281.0,383.4"/>
<polygon points="334.3,388.5 339.7,388.2 343.9,384.5 343.4,387.3 339.7,390.2 336.0,390.5"/>
<polygon points="340.5,380.2 344.7,383.4 345.9,385.9 343.9,383.9 341.0,381.1"/>
<polygon points="350.1,388.2 352.8,391.1 351.6,391.9 350.1,389.6"/>
<polygon points="355.8,393.3 361.9,396.2 365.6,400.2 363.2,399.6 358.2,395.9"/>
<polygon points="373.0,430.2 379.9,435.3 379.2,436.5 373.5,431.9"/>
<polygon points="405.8,422.5 409.0,422.8 408.3,424.5 405.8,423.9"/>
<polygon points="471.7,316.0 474.2,316.0 472.9,318.2"/>
<polygon points="100.2,336.5 102.9,336.5 101.7,337.4"/>
<polygon points="449.5,217.4 444.6,219.4 439.6,221.2 432.2,222.6 424.8,224.0 417.4,224.6 417.4,225.4 427.3,224.6 437.2,222.6 447.0,219.4"/>
<polygon points="617.2,175.5 612.3,174.6 614.8,176.9"/>
<polygon points="609.8,149.8 600.0,148.3 602.4,146.3 612.3,147.5"/>
<polygon points="30.0,640.0 30.0,570.3 42.0,570.3 64.0,569.0 67.7,566.6 88.1,564.2 95.3,560.6 109.7,560.6 117.0,564.2 138.6,565.4 142.2,571.5 148.2,570.3 165.0,566.6 184.3,561.8 213.2,561.4 222.8,559.9 239.6,560.6 249.2,559.4 263.7,562.3 280.0,561.4 300.0,563.0 322.6,566.5 330.0,567.0 354.0,569.4 366.0,571.8 378.0,575.4 375.7,579.0 372.0,588.7 374.5,593.5 366.0,597.0 363.7,601.9 368.5,605.5 383.0,607.9 411.8,611.5 435.8,613.9 455.0,615.1 474.3,613.9 484.0,612.7 486.3,609.1 476.7,607.9 475.5,604.3 484.0,601.9 486.3,595.9 474.3,594.7 464.7,592.3 484.0,591.0 496.0,589.9 517.6,586.3 546.4,585.0 556.0,582.0 570.0,583.4 579.2,584.7 603.3,581.0 608.1,577.5 617.7,578.7 627.3,581.0 639.4,581.0 661.0,578.7 670.6,577.5 669.4,573.9 677.8,571.5 682.7,567.8 687.5,563.0 694.7,559.4 701.9,554.6 713.9,551.0 709.1,555.8 704.3,559.4 706.7,565.4 709.1,571.5 709.6,584.7 694.7,589.5 704.3,590.7 713.9,591.9 728.4,594.3 742.8,596.7 759.6,596.7 771.6,593.1 781.3,590.7 798.1,585.3 813.1,581.5 830.7,579.0 848.2,572.7 853.2,575.2 858.2,574.7 873.3,572.2 903.3,572.2 923.4,570.7 932.0,570.2 945.0,570.2 945.0,640.0"/>
<polygon points="451.4,598.0 456.0,597.5 461.0,598.5 460.0,600.7 452.0,600.5"/>
<polygon points="77.5,143.0 82.0,141.2 90.0,142.0 95.0,143.5 90.0,144.7 83.0,144.5"/>
<polygon points="99.0,143.5 106.0,141.0 112.0,139.8 116.0,140.5 122.0,140.8 130.0,140.5 126.0,142.2 118.0,143.0 113.0,144.7 106.0,144.2"/>
<polygon points="106.7,157.3 113.9,156.0 122.9,154.6 133.7,152.2 134.6,153.2 126.5,156.0 119.3,157.6 115.7,158.6 108.0,160.0"/>
<polygon points="96.7,165.9 101.2,162.3 105.8,159.1 115.7,158.2 112.1,161.4 106.7,164.1 105.8,166.8 110.3,169.0 108.5,170.4 103.0,169.9 98.5,168.6"/>
<polygon points="550.1,155.7 556.9,153.1 567.1,151.4 574.0,148.9 580.8,150.6 589.3,150.6 596.1,146.3 604.6,146.3 609.7,142.9 616.6,147.1 625.1,148.9 633.6,150.6 633.6,158.2 621.7,157.4 613.1,156.5 601.2,157.4 596.1,155.7 589.3,156.5 579.1,155.7 570.6,157.4 562.0,156.5 555.2,157.4"/>
<polygon points="548.4,161.6 555.2,159.9 562.0,160.8 565.4,164.2 562.0,168.4 553.5,169.3 548.4,166.7"/>
<polygon points="566.3,165.0 570.6,161.6 579.1,160.8 584.2,163.3 594.4,164.2 601.2,167.6 599.5,172.7 592.7,174.4 582.5,173.6 575.7,170.1 568.0,169.6"/>
<polygon points="602.9,161.6 613.1,159.9 621.7,161.6 625.1,165.9 620.0,171.0 623.4,176.1 616.6,176.1 609.7,171.8 604.6,167.6"/>
<polygon points="657.5,194.0 661.0,193.2 663.0,195.5 661.0,198.0 658.0,197.0"/>
</g>
<g clip-path="url(#mapclip)" fill="#fff">
<polygon points="596.5,150.8 601.2,150.6 602.1,155.2 597.5,155.2"/>
<polygon points="567.1,153.3 579.1,152.5 579.1,154.1 567.1,154.6"/>
<polygon points="606.0,150.0 614.0,150.5 614.0,152.5 606.0,152.5"/>
</g>
<g class="g">
<line x1="116.5" y1="115.5" x2="116.5" y2="629.5"/>
<line x1="190.5" y1="115.5" x2="190.5" y2="629.5"/>
<line x1="264.5" y1="115.5" x2="264.5" y2="629.5"/>
<line x1="338.5" y1="115.5" x2="338.5" y2="629.5"/>
<line x1="412.5" y1="115.5" x2="412.5" y2="629.5"/>
<line x1="486.5" y1="115.5" x2="486.5" y2="629.5"/>
<line x1="560.5" y1="115.5" x2="560.5" y2="629.5"/>
<line x1="634.5" y1="115.5" x2="634.5" y2="629.5"/>
<line x1="708.5" y1="115.5" x2="708.5" y2="629.5"/>
<line x1="782.5" y1="115.5" x2="782.5" y2="629.5"/>
<line x1="856.5" y1="115.5" x2="856.5" y2="629.5"/>
<line x1="42.5" y1="158.5" x2="931.5" y2="158.5"/>
<line x1="42.5" y1="201.5" x2="931.5" y2="201.5"/>
<line x1="42.5" y1="244.5" x2="931.5" y2="244.5"/>
<line x1="42.5" y1="286.5" x2="931.5" y2="286.5"/>
<line x1="42.5" y1="329.5" x2="931.5" y2="329.5"/>
<line x1="42.5" y1="415.5" x2="931.5" y2="415.5"/>
<line x1="42.5" y1="458.5" x2="931.5" y2="458.5"/>
<line x1="42.5" y1="500.5" x2="931.5" y2="500.5"/>
<line x1="42.5" y1="543.5" x2="931.5" y2="543.5"/>
<line x1="42.5" y1="586.5" x2="931.5" y2="586.5"/>
</g>
<line class="k" x1="42.5" y1="372.5" x2="931.5" y2="372.5"/>
<rect class="k" x="42.5" y="115.5" width="889.0" height="514.0"/>
<g class="n" transform="scale(0.86 1)">
<text x="54.9" y="241.0">13</text><text x="69.3" y="241.0">13</text><text x="355.9" y="241.0">9</text><text x="370.8" y="241.0">10</text><text x="385.1" y="241.0">10</text><text x="399.5" y="241.0">11</text><text x="413.8" y="241.0">11</text><text x="428.2" y="241.0">13</text><text x="442.6" y="241.0">13</text><text x="456.9" y="241.0">13</text><text x="471.3" y="241.0">14</text><text x="485.6" y="241.0">15</text><text x="500.0" y="241.0">15</text><text x="514.3" y="241.0">16</text><text x="528.7" y="241.0">16</text><text x="543.1" y="241.0">16</text><text x="557.4" y="241.0">16</text><text x="571.8" y="241.0">17</text><text x="586.1" y="241.0">17</text><text x="600.5" y="241.0">17</text><text x="614.8" y="241.0">17</text><text x="629.2" y="241.0">15</text><text x="643.6" y="241.0">15</text><text x="830.2" y="241.0">16</text><text x="844.6" y="241.0">14</text><text x="858.9" y="241.0">15</text><text x="873.3" y="241.0">17</text><text x="887.6" y="241.0">17</text><text x="902.0" y="241.0">18</text><text x="916.3" y="241.0">18</text><text x="930.7" y="241.0">19</text><text x="945.1" y="241.0">18</text><text x="959.4" y="241.0">18</text><text x="973.8" y="241.0">17</text><text x="988.1" y="241.0">17</text><text x="1002.5" y="241.0">18</text><text x="1031.2" y="241.0">17</text><text x="1074.3" y="241.0">12</text>
<text x="54.4" y="255.0">9</text><text x="68.8" y="255.0">8</text><text x="83.6" y="255.0">13</text><text x="98.0" y="255.0">10</text><text x="111.9" y="255.0">9</text><text x="312.9" y="255.0">9</text><text x="327.2" y="255.0">8</text><text x="342.1" y="255.0">10</text><text x="356.4" y="255.0">11</text><text x="370.8" y="255.0">11</text><text x="385.1" y="255.0">11</text><text x="399.5" y="255.0">13</text><text x="413.8" y="255.0">14</text><text x="428.2" y="255.0">15</text><text x="442.6" y="255.0">14</text><text x="456.9" y="255.0">15</text><text x="471.3" y="255.0">16</text><text x="485.6" y="255.0">18</text><text x="500.0" y="255.0">17</text><text x="514.3" y="255.0">17</text><text x="528.7" y="255.0">18</text><text x="543.1" y="255.0">18</text><text x="557.4" y="255.0">18</text><text x="571.8" y="255.0">19</text><text x="586.1" y="255.0">20</text><text x="600.5" y="255.0">19</text><text x="614.8" y="255.0">16</text><text x="629.2" y="255.0">14</text><text x="643.6" y="255.0">12</text><text x="787.1" y="255.0">14</text><text x="801.5" y="255.0">13</text><text x="815.8" y="255.0">15</text><text x="830.2" y="255.0">17</text><text x="844.6" y="255.0">17</text><text x="858.9" y="255.0">18</text><text x="873.3" y="255.0">18</text><text x="887.6" y="255.0">18</text><text x="902.0" y="255.0">18</text><text x="916.3" y="255.0">19</text><text x="930.7" y="255.0">19</text><text x="945.1" y="255.0">18</text><text x="959.4" y="255.0">15</text><text x="973.8" y="255.0">15</text><text x="988.1" y="255.0">18</text><text x="1002.5" y="255.0">15</text><text x="1016.8" y="255.0">13</text><text x="1031.2" y="255.0">13</text><text x="1045.6" y="255.0">13</text><text x="1059.9" y="255.0">17</text><text x="1074.3" y="255.0">11</text>
<text x="54.4" y="269.0">9</text><text x="68.8" y="269.0">9</text><text x="98.0" y="269.0">11</text><text x="112.3" y="269.0">10</text><text x="299.0" y="269.0">10</text><text x="313.3" y="269.0">14</text><text x="327.7" y="269.0">13</text><text x="342.1" y="269.0">14</text><text x="356.4" y="269.0">15</text><text x="370.8" y="269.0">13</text><text x="385.1" y="269.0">15</text><text x="399.5" y="269.0">16</text><text x="413.8" y="269.0">16</text><text x="428.2" y="269.0">16</text><text x="442.6" y="269.0">17</text><text x="456.9" y="269.0">17</text><text x="471.3" y="269.0">18</text><text x="485.6" y="269.0">19</text><text x="500.0" y="269.0">19</text><text x="514.3" y="269.0">18</text><text x="528.7" y="269.0">18</text><text x="543.1" y="269.0">19</text><text x="557.4" y="269.0">19</text><text x="571.8" y="269.0">19</text><text x="586.1" y="269.0">19</text><text x="600.5" y="269.0">19</text><text x="614.8" y="269.0">17</text><text x="629.2" y="269.0">14</text><text x="643.6" y="269.0">10</text><text x="772.8" y="269.0">16</text><text x="787.1" y="269.0">17</text><text x="801.5" y="269.0">18</text><text x="815.8" y="269.0">18</text><text x="830.2" y="269.0">18</text><text x="844.6" y="269.0">17</text><text x="858.9" y="269.0">18</text><text x="873.3" y="269.0">17</text><text x="887.6" y="269.0">17</text><text x="902.0" y="269.0">17</text><text x="916.3" y="269.0">17</text><text x="930.7" y="269.0">18</text><text x="945.1" y="269.0">18</text><text x="959.4" y="269.0">14</text><text x="973.8" y="269.0">12</text><text x="988.1" y="269.0">12</text><text x="1002.5" y="269.0">13</text><text x="1016.8" y="269.0">13</text><text x="1031.2" y="269.0">12</text><text x="1045.6" y="269.0">11</text><text x="1059.9" y="269.0">10</text><text x="1073.8" y="269.0">9</text>
<text x="54.4" y="283.0">8</text><text x="69.3" y="283.0">10</text><text x="98.0" y="283.0">12</text><text x="299.0" y="283.0">13</text><text x="313.3" y="283.0">17</text><text x="327.7" y="283.0">17</text><text x="342.1" y="283.0">17</text><text x="356.4" y="283.0">17</text><text x="370.8" y="283.0">18</text><text x="385.1" y="283.0">17</text><text x="399.5" y="283.0">17</text><text x="413.8" y="283.0">17</text><text x="428.2" y="283.0">17</text><text x="442.6" y="283.0">17</text><text x="456.9" y="283.0">16</text><text x="471.3" y="283.0">16</text><text x="485.6" y="283.0">18</text><text x="500.0" y="283.0">18</text><text x="514.3" y="283.0">18</text><text x="528.7" y="283.0">18</text><text x="543.1" y="283.0">18</text><text x="557.4" y="283.0">18</text><text x="571.8" y="283.0">18</text><text x="586.1" y="283.0">19</text><text x="600.5" y="283.0">15</text><text x="614.8" y="283.0">17</text><text x="629.2" y="283.0">14</text><text x="643.6" y="283.0">11</text><text x="657.4" y="283.0">9</text><text x="671.8" y="283.0">8</text><text x="744.1" y="283.0">15</text><text x="758.4" y="283.0">15</text><text x="772.8" y="283.0">18</text><text x="787.1" y="283.0">18</text><text x="801.5" y="283.0">17</text><text x="815.8" y="283.0">16</text><text x="830.2" y="283.0">16</text><text x="844.6" y="283.0">15</text><text x="858.9" y="283.0">15</text><text x="873.3" y="283.0">15</text><text x="887.6" y="283.0">15</text><text x="902.0" y="283.0">15</text><text x="916.3" y="283.0">16</text><text x="930.7" y="283.0">15</text><text x="945.1" y="283.0">14</text><text x="959.4" y="283.0">12</text><text x="973.8" y="283.0">11</text><text x="1030.7" y="283.0">9</text><text x="1045.6" y="283.0">10</text><text x="1059.9" y="283.0">10</text><text x="1073.8" y="283.0">8</text>
<text x="54.4" y="298.0">4</text><text x="68.8" y="298.0">4</text><text x="97.5" y="298.0">8</text><text x="111.9" y="298.0">7</text><text x="126.2" y="298.0">6</text><text x="140.6" y="298.0">9</text><text x="154.9" y="298.0">4</text><text x="299.0" y="298.0">17</text><text x="313.3" y="298.0">18</text><text x="327.7" y="298.0">18</text><text x="342.1" y="298.0">17</text><text x="356.4" y="298.0">16</text><text x="370.8" y="298.0">16</text><text x="385.1" y="298.0">16</text><text x="399.5" y="298.0">15</text><text x="413.8" y="298.0">15</text><text x="428.2" y="298.0">14</text><text x="442.6" y="298.0">14</text><text x="456.9" y="298.0">13</text><text x="471.3" y="298.0">13</text><text x="485.6" y="298.0">14</text><text x="500.0" y="298.0">14</text><text x="514.3" y="298.0">14</text><text x="528.7" y="298.0">15</text><text x="543.1" y="298.0">14</text><text x="557.4" y="298.0">14</text><text x="571.8" y="298.0">15</text><text x="586.1" y="298.0">17</text><text x="600.5" y="298.0">18</text><text x="614.8" y="298.0">19</text><text x="629.2" y="298.0">18</text><text x="643.6" y="298.0">16</text><text x="657.9" y="298.0">13</text><text x="672.3" y="298.0">11</text><text x="686.6" y="298.0">14</text><text x="715.3" y="298.0">16</text><text x="729.7" y="298.0">16</text><text x="744.1" y="298.0">16</text><text x="758.4" y="298.0">15</text><text x="772.8" y="298.0">15</text><text x="787.1" y="298.0">15</text><text x="801.5" y="298.0">15</text><text x="815.8" y="298.0">13</text><text x="830.2" y="298.0">13</text><text x="844.6" y="298.0">13</text><text x="858.9" y="298.0">13</text><text x="873.3" y="298.0">13</text><text x="887.6" y="298.0">13</text><text x="902.0" y="298.0">13</text><text x="916.3" y="298.0">13</text><text x="930.7" y="298.0">11</text><text x="945.1" y="298.0">10</text><text x="959.4" y="298.0">10</text><text x="973.3" y="298.0">9</text>
<text x="68.8" y="312.0">5</text><text x="83.2" y="312.0">7</text><text x="111.9" y="312.0">6</text><text x="126.2" y="312.0">6</text><text x="140.6" y="312.0">7</text><text x="154.9" y="312.0">8</text><text x="169.3" y="312.0">9</text><text x="212.8" y="312.0">14</text><text x="227.2" y="312.0">16</text><text x="270.3" y="312.0">21</text><text x="284.6" y="312.0">19</text><text x="299.0" y="312.0">18</text><text x="313.3" y="312.0">16</text><text x="327.7" y="312.0">15</text><text x="342.1" y="312.0">14</text><text x="356.4" y="312.0">14</text><text x="370.8" y="312.0">13</text><text x="385.1" y="312.0">13</text><text x="399.5" y="312.0">12</text><text x="413.8" y="312.0">12</text><text x="428.2" y="312.0">11</text><text x="442.6" y="312.0">12</text><text x="456.9" y="312.0">12</text><text x="471.3" y="312.0">11</text><text x="485.6" y="312.0">11</text><text x="500.0" y="312.0">11</text><text x="514.3" y="312.0">12</text><text x="528.7" y="312.0">11</text><text x="543.1" y="312.0">11</text><text x="557.4" y="312.0">13</text><text x="571.8" y="312.0">16</text><text x="586.1" y="312.0">18</text><text x="600.5" y="312.0">22</text><text x="614.8" y="312.0">22</text><text x="629.2" y="312.0">21</text><text x="643.6" y="312.0">20</text><text x="657.9" y="312.0">15</text><text x="672.3" y="312.0">12</text><text x="686.6" y="312.0">14</text><text x="715.3" y="312.0">17</text><text x="729.7" y="312.0">15</text><text x="744.1" y="312.0">14</text><text x="758.4" y="312.0">14</text><text x="772.8" y="312.0">13</text><text x="787.1" y="312.0">12</text><text x="801.5" y="312.0">12</text><text x="815.8" y="312.0">11</text><text x="830.2" y="312.0">11</text><text x="844.6" y="312.0">11</text><text x="858.9" y="312.0">11</text><text x="873.3" y="312.0">12</text><text x="887.6" y="312.0">12</text><text x="902.0" y="312.0">13</text><text x="916.3" y="312.0">12</text><text x="930.7" y="312.0">11</text><text x="944.6" y="312.0">8</text>
<text x="68.8" y="326.0">8</text><text x="83.2" y="326.0">9</text><text x="111.9" y="326.0">7</text><text x="126.2" y="326.0">6</text><text x="140.6" y="326.0">8</text><text x="155.4" y="326.0">10</text><text x="169.8" y="326.0">11</text><text x="198.5" y="326.0">14</text><text x="212.8" y="326.0">15</text><text x="227.2" y="326.0">16</text><text x="241.6" y="326.0">14</text><text x="270.3" y="326.0">18</text><text x="284.6" y="326.0">16</text><text x="299.0" y="326.0">14</text><text x="313.3" y="326.0">15</text><text x="327.7" y="326.0">12</text><text x="342.1" y="326.0">13</text><text x="356.4" y="326.0">14</text><text x="370.8" y="326.0">12</text><text x="385.1" y="326.0">12</text><text x="399.5" y="326.0">11</text><text x="413.8" y="326.0">10</text><text x="428.2" y="326.0">10</text><text x="442.6" y="326.0">10</text><text x="456.9" y="326.0">10</text><text x="471.3" y="326.0">11</text><text x="485.6" y="326.0">11</text><text x="500.0" y="326.0">12</text><text x="514.3" y="326.0">13</text><text x="528.7" y="326.0">13</text><text x="543.1" y="326.0">14</text><text x="557.4" y="326.0">14</text><text x="571.8" y="326.0">17</text><text x="586.1" y="326.0">18</text><text x="600.5" y="326.0">20</text><text x="614.8" y="326.0">24</text><text x="629.2" y="326.0">23</text><text x="643.6" y="326.0">23</text><text x="657.9" y="326.0">19</text><text x="672.3" y="326.0">16</text><text x="686.6" y="326.0">15</text><text x="701.0" y="326.0">16</text><text x="715.3" y="326.0">16</text><text x="729.7" y="326.0">16</text><text x="744.1" y="326.0">18</text><text x="758.4" y="326.0">14</text><text x="772.8" y="326.0">12</text><text x="787.1" y="326.0">11</text><text x="801.5" y="326.0">11</text><text x="815.8" y="326.0">11</text><text x="830.2" y="326.0">11</text><text x="844.6" y="326.0">11</text><text x="858.9" y="326.0">13</text><text x="873.3" y="326.0">13</text><text x="887.6" y="326.0">15</text><text x="902.0" y="326.0">15</text><text x="916.3" y="326.0">14</text><text x="930.7" y="326.0">13</text><text x="945.1" y="326.0">11</text>
<text x="83.6" y="340.0">10</text><text x="97.5" y="340.0">6</text><text x="111.9" y="340.0">6</text><text x="126.2" y="340.0">7</text><text x="140.6" y="340.0">9</text><text x="155.4" y="340.0">11</text><text x="169.8" y="340.0">14</text><text x="184.1" y="340.0">17</text><text x="198.5" y="340.0">15</text><text x="212.8" y="340.0">15</text><text x="227.2" y="340.0">17</text><text x="241.6" y="340.0">21</text><text x="255.9" y="340.0">24</text><text x="270.3" y="340.0">17</text><text x="284.6" y="340.0">16</text><text x="299.0" y="340.0">16</text><text x="313.3" y="340.0">20</text><text x="327.7" y="340.0">15</text><text x="342.1" y="340.0">16</text><text x="356.4" y="340.0">17</text><text x="370.8" y="340.0">15</text><text x="385.1" y="340.0">14</text><text x="399.5" y="340.0">15</text><text x="413.8" y="340.0">16</text><text x="428.2" y="340.0">15</text><text x="442.6" y="340.0">15</text><text x="456.9" y="340.0">14</text><text x="471.3" y="340.0">15</text><text x="485.6" y="340.0">16</text><text x="500.0" y="340.0">15</text><text x="514.3" y="340.0">17</text><text x="528.7" y="340.0">17</text><text x="543.1" y="340.0">18</text><text x="557.4" y="340.0">17</text><text x="571.8" y="340.0">18</text><text x="586.1" y="340.0">18</text><text x="600.5" y="340.0">20</text><text x="614.8" y="340.0">23</text><text x="629.2" y="340.0">23</text><text x="643.6" y="340.0">21</text><text x="657.9" y="340.0">19</text><text x="672.3" y="340.0">19</text><text x="686.6" y="340.0">17</text><text x="701.0" y="340.0">16</text><text x="715.3" y="340.0">16</text><text x="729.7" y="340.0">18</text><text x="744.1" y="340.0">19</text><text x="758.4" y="340.0">19</text><text x="772.8" y="340.0">15</text><text x="787.1" y="340.0">11</text><text x="801.5" y="340.0">10</text><text x="815.8" y="340.0">12</text><text x="830.2" y="340.0">13</text><text x="844.6" y="340.0">13</text><text x="858.9" y="340.0">15</text><text x="873.3" y="340.0">16</text><text x="887.6" y="340.0">17</text><text x="902.0" y="340.0">16</text><text x="916.3" y="340.0">16</text><text x="930.7" y="340.0">15</text><text x="945.1" y="340.0">15</text><text x="959.4" y="340.0">15</text>
<text x="97.5" y="355.0">8</text><text x="111.9" y="355.0">8</text><text x="126.2" y="355.0">9</text><text x="141.1" y="355.0">10</text><text x="155.4" y="355.0">12</text><text x="169.8" y="355.0">15</text><text x="184.1" y="355.0">19</text><text x="198.5" y="355.0">21</text><text x="212.8" y="355.0">24</text><text x="227.2" y="355.0">29</text><text x="241.6" y="355.0">32</text><text x="255.9" y="355.0">24</text><text x="270.3" y="355.0">21</text><text x="284.6" y="355.0">21</text><text x="299.0" y="355.0">23</text><text x="313.3" y="355.0">23</text><text x="327.7" y="355.0">20</text><text x="342.1" y="355.0">22</text><text x="356.4" y="355.0">26</text><text x="370.8" y="355.0">21</text><text x="385.1" y="355.0">19</text><text x="399.5" y="355.0">21</text><text x="413.8" y="355.0">22</text><text x="428.2" y="355.0">24</text><text x="442.6" y="355.0">20</text><text x="456.9" y="355.0">22</text><text x="471.3" y="355.0">23</text><text x="485.6" y="355.0">24</text><text x="500.0" y="355.0">24</text><text x="514.3" y="355.0">26</text><text x="528.7" y="355.0">26</text><text x="543.1" y="355.0">25</text><text x="557.4" y="355.0">25</text><text x="571.8" y="355.0">23</text><text x="586.1" y="355.0">21</text><text x="600.5" y="355.0">22</text><text x="614.8" y="355.0">25</text><text x="629.2" y="355.0">21</text><text x="643.6" y="355.0">25</text><text x="657.9" y="355.0">22</text><text x="672.3" y="355.0">24</text><text x="686.6" y="355.0">22</text><text x="701.0" y="355.0">21</text><text x="715.3" y="355.0">22</text><text x="729.7" y="355.0">21</text><text x="744.1" y="355.0">24</text><text x="758.4" y="355.0">30</text><text x="772.8" y="355.0">26</text><text x="815.8" y="355.0">18</text><text x="830.2" y="355.0">16</text><text x="844.6" y="355.0">18</text><text x="858.9" y="355.0">20</text><text x="873.3" y="355.0">22</text><text x="887.6" y="355.0">22</text><text x="902.0" y="355.0">22</text><text x="916.3" y="355.0">22</text><text x="930.7" y="355.0">22</text><text x="945.1" y="355.0">20</text><text x="959.4" y="355.0">22</text><text x="973.8" y="355.0">24</text><text x="988.1" y="355.0">22</text><text x="1002.5" y="355.0">23</text><text x="1016.8" y="355.0">20</text>
<text x="83.2" y="369.0">8</text><text x="97.5" y="369.0">9</text><text x="111.9" y="369.0">9</text><text x="126.7" y="369.0">13</text><text x="141.1" y="369.0">16</text><text x="155.4" y="369.0">17</text><text x="169.8" y="369.0">19</text><text x="184.1" y="369.0">21</text><text x="198.5" y="369.0">25</text><text x="212.8" y="369.0">30</text><text x="227.2" y="369.0">33</text><text x="241.6" y="369.0">35</text><text x="255.9" y="369.0">31</text><text x="270.3" y="369.0">26</text><text x="284.6" y="369.0">30</text><text x="299.0" y="369.0">25</text><text x="313.3" y="369.0">23</text><text x="327.7" y="369.0">23</text><text x="342.1" y="369.0">28</text><text x="356.4" y="369.0">30</text><text x="370.8" y="369.0">25</text><text x="385.1" y="369.0">21</text><text x="399.5" y="369.0">21</text><text x="413.8" y="369.0">24</text><text x="428.2" y="369.0">23</text><text x="442.6" y="369.0">21</text><text x="456.9" y="369.0">21</text><text x="471.3" y="369.0">21</text><text x="485.6" y="369.0">18</text><text x="500.0" y="369.0">16</text><text x="514.3" y="369.0">15</text><text x="528.7" y="369.0">15</text><text x="543.1" y="369.0">15</text><text x="557.4" y="369.0">15</text><text x="571.8" y="369.0">12</text><text x="586.1" y="369.0">13</text><text x="600.5" y="369.0">14</text><text x="614.8" y="369.0">13</text><text x="629.2" y="369.0">13</text><text x="643.6" y="369.0">15</text><text x="657.9" y="369.0">17</text><text x="672.3" y="369.0">16</text><text x="686.6" y="369.0">19</text><text x="701.0" y="369.0">18</text><text x="715.3" y="369.0">22</text><text x="729.7" y="369.0">26</text><text x="744.1" y="369.0">28</text><text x="758.4" y="369.0">31</text><text x="772.8" y="369.0">34</text><text x="844.6" y="369.0">22</text><text x="858.9" y="369.0">21</text><text x="873.3" y="369.0">21</text><text x="887.6" y="369.0">20</text><text x="902.0" y="369.0">19</text><text x="916.3" y="369.0">21</text><text x="930.7" y="369.0">19</text><text x="945.1" y="369.0">19</text><text x="959.4" y="369.0">21</text><text x="973.8" y="369.0">21</text><text x="988.1" y="369.0">22</text><text x="1002.5" y="369.0">24</text><text x="1016.8" y="369.0">29</text>
<text x="69.3" y="383.0">10</text><text x="83.6" y="383.0">10</text><text x="98.0" y="383.0">10</text><text x="112.3" y="383.0">12</text><text x="126.7" y="383.0">14</text><text x="141.1" y="383.0">19</text><text x="155.4" y="383.0">21</text><text x="169.8" y="383.0">23</text><text x="184.1" y="383.0">22</text><text x="198.5" y="383.0">26</text><text x="212.8" y="383.0">29</text><text x="227.2" y="383.0">29</text><text x="241.6" y="383.0">34</text><text x="255.9" y="383.0">34</text><text x="270.3" y="383.0">30</text><text x="284.6" y="383.0">26</text><text x="299.0" y="383.0">32</text><text x="313.3" y="383.0">22</text><text x="327.7" y="383.0">25</text><text x="342.1" y="383.0">31</text><text x="356.4" y="383.0">29</text><text x="370.8" y="383.0">29</text><text x="385.1" y="383.0">27</text><text x="399.5" y="383.0">24</text><text x="413.8" y="383.0">23</text><text x="428.2" y="383.0">22</text><text x="442.6" y="383.0">22</text><text x="456.9" y="383.0">19</text><text x="471.3" y="383.0">17</text><text x="485.6" y="383.0">14</text><text x="500.0" y="383.0">12</text><text x="514.3" y="383.0">10</text><text x="528.7" y="383.0">10</text><text x="542.6" y="383.0">8</text><text x="556.9" y="383.0">8</text><text x="571.3" y="383.0">8</text><text x="585.7" y="383.0">8</text><text x="600.0" y="383.0">8</text><text x="614.4" y="383.0">8</text><text x="629.2" y="383.0">10</text><text x="643.1" y="383.0">9</text><text x="657.9" y="383.0">11</text><text x="672.3" y="383.0">13</text><text x="686.6" y="383.0">15</text><text x="701.0" y="383.0">16</text><text x="715.3" y="383.0">16</text><text x="729.7" y="383.0">18</text><text x="744.1" y="383.0">20</text><text x="758.4" y="383.0">28</text><text x="858.9" y="383.0">21</text><text x="873.3" y="383.0">18</text><text x="887.6" y="383.0">15</text><text x="902.0" y="383.0">13</text><text x="916.3" y="383.0">13</text><text x="930.7" y="383.0">11</text><text x="945.1" y="383.0">12</text><text x="959.4" y="383.0">12</text><text x="973.8" y="383.0">14</text><text x="988.1" y="383.0">16</text><text x="1002.5" y="383.0">22</text><text x="1016.8" y="383.0">27</text><text x="1031.2" y="383.0">27</text>
<text x="69.3" y="397.0">15</text><text x="83.6" y="397.0">13</text><text x="98.0" y="397.0">12</text><text x="112.3" y="397.0">14</text><text x="126.7" y="397.0">17</text><text x="141.1" y="397.0">20</text><text x="155.4" y="397.0">20</text><text x="169.8" y="397.0">20</text><text x="184.1" y="397.0">23</text><text x="198.5" y="397.0">23</text><text x="212.8" y="397.0">27</text><text x="227.2" y="397.0">25</text><text x="241.6" y="397.0">25</text><text x="255.9" y="397.0">23</text><text x="270.3" y="397.0">25</text><text x="284.6" y="397.0">21</text><text x="299.0" y="397.0">19</text><text x="313.3" y="397.0">17</text><text x="327.7" y="397.0">18</text><text x="342.1" y="397.0">19</text><text x="356.4" y="397.0">23</text><text x="370.8" y="397.0">22</text><text x="385.1" y="397.0">28</text><text x="399.5" y="397.0">24</text><text x="413.8" y="397.0">24</text><text x="428.2" y="397.0">25</text><text x="442.6" y="397.0">25</text><text x="456.9" y="397.0">25</text><text x="471.3" y="397.0">21</text><text x="485.6" y="397.0">23</text><text x="500.0" y="397.0">19</text><text x="514.3" y="397.0">17</text><text x="528.7" y="397.0">14</text><text x="543.1" y="397.0">11</text><text x="556.9" y="397.0">9</text><text x="571.8" y="397.0">10</text><text x="585.7" y="397.0">9</text><text x="600.0" y="397.0">7</text><text x="614.4" y="397.0">7</text><text x="628.7" y="397.0">8</text><text x="643.1" y="397.0">8</text><text x="657.9" y="397.0">10</text><text x="672.3" y="397.0">12</text><text x="686.6" y="397.0">14</text><text x="701.0" y="397.0">17</text><text x="715.3" y="397.0">18</text><text x="729.7" y="397.0">19</text><text x="744.1" y="397.0">24</text><text x="758.4" y="397.0">19</text><text x="772.8" y="397.0">21</text><text x="887.6" y="397.0">14</text><text x="902.0" y="397.0">13</text><text x="916.3" y="397.0">10</text><text x="930.7" y="397.0">11</text><text x="945.1" y="397.0">13</text><text x="959.4" y="397.0">12</text><text x="973.8" y="397.0">13</text><text x="988.1" y="397.0">15</text><text x="1002.5" y="397.0">18</text><text x="1016.8" y="397.0">23</text><text x="1031.2" y="397.0">21</text>
<text x="83.6" y="412.0">13</text><text x="98.0" y="412.0">15</text><text x="112.3" y="412.0">15</text><text x="126.7" y="412.0">14</text><text x="141.1" y="412.0">15</text><text x="155.4" y="412.0">17</text><text x="169.8" y="412.0">18</text><text x="184.1" y="412.0">18</text><text x="198.5" y="412.0">20</text><text x="212.8" y="412.0">20</text><text x="227.2" y="412.0">22</text><text x="241.6" y="412.0">20</text><text x="255.9" y="412.0">15</text><text x="270.3" y="412.0">16</text><text x="284.6" y="412.0">12</text><text x="299.0" y="412.0">11</text><text x="313.3" y="412.0">10</text><text x="327.7" y="412.0">11</text><text x="342.1" y="412.0">14</text><text x="356.4" y="412.0">17</text><text x="370.8" y="412.0">18</text><text x="385.1" y="412.0">19</text><text x="399.5" y="412.0">18</text><text x="413.8" y="412.0">20</text><text x="428.2" y="412.0">22</text><text x="442.6" y="412.0">21</text><text x="456.9" y="412.0">23</text><text x="471.3" y="412.0">22</text><text x="485.6" y="412.0">23</text><text x="500.0" y="412.0">22</text><text x="514.3" y="412.0">20</text><text x="528.7" y="412.0">16</text><text x="543.1" y="412.0">14</text><text x="557.4" y="412.0">15</text><text x="571.8" y="412.0">13</text><text x="586.1" y="412.0">11</text><text x="600.5" y="412.0">10</text><text x="614.4" y="412.0">9</text><text x="629.2" y="412.0">10</text><text x="643.6" y="412.0">10</text><text x="657.9" y="412.0">12</text><text x="672.3" y="412.0">14</text><text x="686.6" y="412.0">17</text><text x="701.0" y="412.0">17</text><text x="715.3" y="412.0">18</text><text x="729.7" y="412.0">18</text><text x="744.1" y="412.0">22</text><text x="758.4" y="412.0">16</text><text x="772.8" y="412.0">20</text><text x="887.6" y="412.0">15</text><text x="902.0" y="412.0">12</text><text x="916.3" y="412.0">11</text><text x="930.7" y="412.0">13</text><text x="945.1" y="412.0">16</text><text x="959.4" y="412.0">16</text><text x="973.8" y="412.0">17</text><text x="988.1" y="412.0">18</text><text x="1002.5" y="412.0">19</text><text x="1016.8" y="412.0">27</text><text x="1031.2" y="412.0">23</text>
<text x="54.4" y="426.0">2</text><text x="69.3" y="426.0">11</text><text x="83.6" y="426.0">12</text><text x="98.0" y="426.0">14</text><text x="112.3" y="426.0">14</text><text x="126.7" y="426.0">15</text><text x="141.1" y="426.0">15</text><text x="155.4" y="426.0">15</text><text x="169.8" y="426.0">15</text><text x="184.1" y="426.0">16</text><text x="198.5" y="426.0">17</text><text x="212.8" y="426.0">17</text><text x="227.2" y="426.0">18</text><text x="241.6" y="426.0">18</text><text x="255.9" y="426.0">17</text><text x="270.3" y="426.0">14</text><text x="284.6" y="426.0">10</text><text x="298.5" y="426.0">9</text><text x="313.3" y="426.0">10</text><text x="356.4" y="426.0">13</text><text x="370.8" y="426.0">17</text><text x="385.1" y="426.0">14</text><text x="399.5" y="426.0">14</text><text x="413.8" y="426.0">15</text><text x="428.2" y="426.0">16</text><text x="442.6" y="426.0">19</text><text x="456.9" y="426.0">20</text><text x="471.3" y="426.0">22</text><text x="485.6" y="426.0">22</text><text x="500.0" y="426.0">22</text><text x="514.3" y="426.0">21</text><text x="528.7" y="426.0">20</text><text x="543.1" y="426.0">19</text><text x="557.4" y="426.0">17</text><text x="571.8" y="426.0">15</text><text x="586.1" y="426.0">13</text><text x="600.5" y="426.0">14</text><text x="614.8" y="426.0">14</text><text x="629.2" y="426.0">15</text><text x="643.6" y="426.0">14</text><text x="657.9" y="426.0">14</text><text x="672.3" y="426.0">16</text><text x="686.6" y="426.0">16</text><text x="701.0" y="426.0">17</text><text x="715.3" y="426.0">20</text><text x="729.7" y="426.0">18</text><text x="744.1" y="426.0">21</text><text x="758.4" y="426.0">17</text><text x="772.8" y="426.0">17</text><text x="787.1" y="426.0">21</text><text x="887.6" y="426.0">17</text><text x="902.0" y="426.0">13</text><text x="916.3" y="426.0">12</text><text x="930.7" y="426.0">14</text><text x="945.1" y="426.0">16</text><text x="959.4" y="426.0">17</text><text x="973.8" y="426.0">20</text><text x="988.1" y="426.0">19</text><text x="1002.5" y="426.0">17</text><text x="1016.8" y="426.0">17</text><text x="1031.2" y="426.0">29</text>
<text x="54.9" y="440.0">11</text><text x="68.8" y="440.0">9</text><text x="83.2" y="440.0">8</text><text x="98.0" y="440.0">17</text><text x="112.3" y="440.0">15</text><text x="126.7" y="440.0">14</text><text x="141.1" y="440.0">15</text><text x="155.4" y="440.0">15</text><text x="169.8" y="440.0">15</text><text x="184.1" y="440.0">16</text><text x="198.5" y="440.0">16</text><text x="212.8" y="440.0">16</text><text x="227.2" y="440.0">18</text><text x="241.6" y="440.0">18</text><text x="255.9" y="440.0">18</text><text x="270.3" y="440.0">15</text><text x="284.6" y="440.0">10</text><text x="299.0" y="440.0">10</text><text x="385.1" y="440.0">12</text><text x="399.5" y="440.0">12</text><text x="413.8" y="440.0">13</text><text x="428.2" y="440.0">15</text><text x="442.6" y="440.0">16</text><text x="456.9" y="440.0">18</text><text x="471.3" y="440.0">21</text><text x="485.6" y="440.0">20</text><text x="500.0" y="440.0">22</text><text x="514.3" y="440.0">23</text><text x="528.7" y="440.0">22</text><text x="543.1" y="440.0">21</text><text x="557.4" y="440.0">23</text><text x="571.8" y="440.0">22</text><text x="586.1" y="440.0">18</text><text x="600.5" y="440.0">16</text><text x="614.8" y="440.0">16</text><text x="629.2" y="440.0">17</text><text x="643.6" y="440.0">15</text><text x="657.9" y="440.0">14</text><text x="672.3" y="440.0">14</text><text x="686.6" y="440.0">15</text><text x="701.0" y="440.0">18</text><text x="715.3" y="440.0">18</text><text x="729.7" y="440.0">17</text><text x="744.1" y="440.0">17</text><text x="758.4" y="440.0">14</text><text x="772.8" y="440.0">19</text><text x="787.1" y="440.0">18</text><text x="858.9" y="440.0">28</text><text x="873.3" y="440.0">23</text><text x="887.6" y="440.0">19</text><text x="902.0" y="440.0">18</text><text x="916.3" y="440.0">16</text><text x="930.7" y="440.0">14</text><text x="945.1" y="440.0">14</text><text x="959.4" y="440.0">15</text><text x="973.8" y="440.0">18</text><text x="988.1" y="440.0">20</text><text x="1002.5" y="440.0">17</text><text x="1016.8" y="440.0">12</text><text x="1031.2" y="440.0">20</text>
<text x="54.9" y="454.0">13</text><text x="69.3" y="454.0">12</text><text x="83.6" y="454.0">12</text><text x="98.0" y="454.0">14</text><text x="112.3" y="454.0">16</text><text x="126.7" y="454.0">17</text><text x="141.1" y="454.0">16</text><text x="155.4" y="454.0">17</text><text x="169.8" y="454.0">17</text><text x="184.1" y="454.0">17</text><text x="198.5" y="454.0">18</text><text x="212.8" y="454.0">17</text><text x="227.2" y="454.0">17</text><text x="241.6" y="454.0">19</text><text x="255.9" y="454.0">18</text><text x="270.3" y="454.0">16</text><text x="284.6" y="454.0">11</text><text x="399.5" y="454.0">13</text><text x="413.8" y="454.0">14</text><text x="428.2" y="454.0">16</text><text x="442.6" y="454.0">16</text><text x="456.9" y="454.0">17</text><text x="471.3" y="454.0">20</text><text x="485.6" y="454.0">18</text><text x="500.0" y="454.0">20</text><text x="514.3" y="454.0">22</text><text x="528.7" y="454.0">20</text><text x="543.1" y="454.0">21</text><text x="557.4" y="454.0">25</text><text x="571.8" y="454.0">20</text><text x="586.1" y="454.0">22</text><text x="600.5" y="454.0">20</text><text x="614.8" y="454.0">19</text><text x="629.2" y="454.0">20</text><text x="643.6" y="454.0">20</text><text x="657.9" y="454.0">18</text><text x="672.3" y="454.0">21</text><text x="686.6" y="454.0">18</text><text x="701.0" y="454.0">18</text><text x="715.3" y="454.0">19</text><text x="729.7" y="454.0">19</text><text x="744.1" y="454.0">14</text><text x="758.4" y="454.0">13</text><text x="772.8" y="454.0">14</text><text x="787.1" y="454.0">16</text><text x="858.9" y="454.0">20</text><text x="873.3" y="454.0">18</text><text x="887.6" y="454.0">18</text><text x="902.0" y="454.0">19</text><text x="916.3" y="454.0">18</text><text x="930.7" y="454.0">19</text><text x="945.1" y="454.0">18</text><text x="959.4" y="454.0">18</text><text x="973.8" y="454.0">17</text><text x="988.1" y="454.0">18</text><text x="1002.5" y="454.0">18</text><text x="1016.8" y="454.0">14</text><text x="1030.7" y="454.0">9</text><text x="1045.1" y="454.0">9</text>
<text x="54.9" y="469.0">14</text><text x="69.3" y="469.0">14</text><text x="83.6" y="469.0">14</text><text x="98.0" y="469.0">15</text><text x="112.3" y="469.0">17</text><text x="126.7" y="469.0">16</text><text x="141.1" y="469.0">17</text><text x="155.4" y="469.0">17</text><text x="169.8" y="469.0">18</text><text x="184.1" y="469.0">16</text><text x="198.5" y="469.0">18</text><text x="212.8" y="469.0">17</text><text x="227.2" y="469.0">18</text><text x="241.6" y="469.0">19</text><text x="255.9" y="469.0">17</text><text x="270.3" y="469.0">17</text><text x="284.6" y="469.0">14</text><text x="299.0" y="469.0">13</text><text x="313.3" y="469.0">14</text><text x="327.7" y="469.0">17</text><text x="342.1" y="469.0">17</text><text x="356.4" y="469.0">15</text><text x="399.5" y="469.0">14</text><text x="413.8" y="469.0">15</text><text x="428.2" y="469.0">16</text><text x="442.6" y="469.0">17</text><text x="456.9" y="469.0">17</text><text x="471.3" y="469.0">18</text><text x="485.6" y="469.0">18</text><text x="500.0" y="469.0">19</text><text x="514.3" y="469.0">18</text><text x="528.7" y="469.0">18</text><text x="543.1" y="469.0">19</text><text x="557.4" y="469.0">19</text><text x="571.8" y="469.0">20</text><text x="586.1" y="469.0">20</text><text x="600.5" y="469.0">19</text><text x="614.8" y="469.0">20</text><text x="629.2" y="469.0">21</text><text x="643.6" y="469.0">19</text><text x="657.9" y="469.0">19</text><text x="672.3" y="469.0">19</text><text x="686.6" y="469.0">19</text><text x="701.0" y="469.0">21</text><text x="715.3" y="469.0">24</text><text x="729.7" y="469.0">19</text><text x="744.1" y="469.0">13</text><text x="758.4" y="469.0">16</text><text x="772.8" y="469.0">14</text><text x="787.1" y="469.0">13</text><text x="830.2" y="469.0">14</text><text x="844.6" y="469.0">15</text><text x="858.9" y="469.0">16</text><text x="873.3" y="469.0">18</text><text x="887.6" y="469.0">19</text><text x="902.0" y="469.0">20</text><text x="916.3" y="469.0">18</text><text x="930.7" y="469.0">19</text><text x="945.1" y="469.0">20</text><text x="959.4" y="469.0">21</text><text x="973.8" y="469.0">20</text><text x="988.1" y="469.0">20</text><text x="1002.5" y="469.0">20</text><text x="1016.8" y="469.0">18</text><text x="1031.2" y="469.0">12</text><text x="1045.6" y="469.0">10</text><text x="1059.9" y="469.0">13</text><text x="1074.3" y="469.0">14</text>
<text x="54.9" y="483.0">13</text><text x="69.3" y="483.0">15</text><text x="83.6" y="483.0">18</text><text x="98.0" y="483.0">18</text><text x="112.3" y="483.0">18</text><text x="126.7" y="483.0">18</text><text x="141.1" y="483.0">19</text><text x="155.4" y="483.0">18</text><text x="169.8" y="483.0">18</text><text x="184.1" y="483.0">17</text><text x="198.5" y="483.0">21</text><text x="212.8" y="483.0">18</text><text x="227.2" y="483.0">18</text><text x="241.6" y="483.0">17</text><text x="255.9" y="483.0">18</text><text x="270.3" y="483.0">19</text><text x="284.6" y="483.0">17</text><text x="299.0" y="483.0">17</text><text x="313.3" y="483.0">18</text><text x="327.7" y="483.0">19</text><text x="342.1" y="483.0">18</text><text x="356.4" y="483.0">18</text><text x="370.8" y="483.0">18</text><text x="385.1" y="483.0">17</text><text x="399.5" y="483.0">16</text><text x="413.8" y="483.0">17</text><text x="428.2" y="483.0">17</text><text x="442.6" y="483.0">18</text><text x="456.9" y="483.0">16</text><text x="471.3" y="483.0">17</text><text x="485.6" y="483.0">17</text><text x="500.0" y="483.0">18</text><text x="514.3" y="483.0">18</text><text x="528.7" y="483.0">19</text><text x="543.1" y="483.0">20</text><text x="557.4" y="483.0">17</text><text x="571.8" y="483.0">18</text><text x="586.1" y="483.0">19</text><text x="600.5" y="483.0">19</text><text x="614.8" y="483.0">18</text><text x="629.2" y="483.0">17</text><text x="643.6" y="483.0">16</text><text x="657.9" y="483.0">16</text><text x="672.3" y="483.0">15</text><text x="686.6" y="483.0">15</text><text x="701.0" y="483.0">17</text><text x="715.3" y="483.0">14</text><text x="729.7" y="483.0">11</text><text x="744.1" y="483.0">12</text><text x="758.4" y="483.0">12</text><text x="772.8" y="483.0">10</text><text x="787.1" y="483.0">12</text><text x="815.8" y="483.0">15</text><text x="830.2" y="483.0">14</text><text x="844.6" y="483.0">15</text><text x="858.9" y="483.0">17</text><text x="873.3" y="483.0">20</text><text x="887.6" y="483.0">17</text><text x="902.0" y="483.0">17</text><text x="916.3" y="483.0">18</text><text x="930.7" y="483.0">19</text><text x="945.1" y="483.0">20</text><text x="959.4" y="483.0">18</text><text x="973.8" y="483.0">21</text><text x="988.1" y="483.0">22</text><text x="1002.5" y="483.0">21</text><text x="1016.8" y="483.0">20</text><text x="1031.2" y="483.0">20</text><text x="1045.6" y="483.0">14</text><text x="1059.9" y="483.0">13</text><text x="1074.3" y="483.0">14</text>
<text x="54.9" y="497.0">19</text><text x="69.3" y="497.0">21</text><text x="83.6" y="497.0">20</text><text x="98.0" y="497.0">19</text><text x="112.3" y="497.0">17</text><text x="126.7" y="497.0">20</text><text x="141.1" y="497.0">18</text><text x="155.4" y="497.0">21</text><text x="169.8" y="497.0">18</text><text x="184.1" y="497.0">15</text><text x="198.5" y="497.0">24</text><text x="212.8" y="497.0">19</text><text x="227.2" y="497.0">23</text><text x="241.6" y="497.0">21</text><text x="255.9" y="497.0">23</text><text x="270.3" y="497.0">18</text><text x="284.6" y="497.0">21</text><text x="299.0" y="497.0">17</text><text x="313.3" y="497.0">18</text><text x="327.7" y="497.0">19</text><text x="342.1" y="497.0">24</text><text x="356.4" y="497.0">21</text><text x="370.8" y="497.0">19</text><text x="385.1" y="497.0">17</text><text x="399.5" y="497.0">18</text><text x="413.8" y="497.0">17</text><text x="428.2" y="497.0">18</text><text x="442.6" y="497.0">17</text><text x="456.9" y="497.0">17</text><text x="471.3" y="497.0">16</text><text x="485.6" y="497.0">17</text><text x="500.0" y="497.0">18</text><text x="514.3" y="497.0">18</text><text x="528.7" y="497.0">17</text><text x="543.1" y="497.0">18</text><text x="557.4" y="497.0">18</text><text x="571.8" y="497.0">18</text><text x="586.1" y="497.0">15</text><text x="600.5" y="497.0">16</text><text x="614.8" y="497.0">14</text><text x="629.2" y="497.0">14</text><text x="643.6" y="497.0">17</text><text x="657.9" y="497.0">12</text><text x="672.3" y="497.0">11</text><text x="686.6" y="497.0">10</text><text x="701.0" y="497.0">13</text><text x="715.3" y="497.0">12</text><text x="729.7" y="497.0">14</text><text x="744.1" y="497.0">13</text><text x="758.4" y="497.0">11</text><text x="772.8" y="497.0">14</text><text x="787.1" y="497.0">14</text><text x="801.5" y="497.0">16</text><text x="815.8" y="497.0">14</text><text x="830.2" y="497.0">15</text><text x="844.6" y="497.0">18</text><text x="858.9" y="497.0">17</text><text x="873.3" y="497.0">17</text><text x="887.6" y="497.0">18</text><text x="902.0" y="497.0">20</text><text x="916.3" y="497.0">19</text><text x="930.7" y="497.0">18</text><text x="945.1" y="497.0">23</text><text x="959.4" y="497.0">17</text><text x="973.8" y="497.0">16</text><text x="988.1" y="497.0">22</text><text x="1002.5" y="497.0">20</text><text x="1016.8" y="497.0">20</text><text x="1031.2" y="497.0">22</text><text x="1045.6" y="497.0">21</text><text x="1059.9" y="497.0">21</text><text x="1074.3" y="497.0">23</text>
<text x="54.9" y="511.0">26</text><text x="69.3" y="511.0">25</text><text x="83.6" y="511.0">27</text><text x="98.0" y="511.0">21</text><text x="112.3" y="511.0">20</text><text x="126.7" y="511.0">21</text><text x="141.1" y="511.0">22</text><text x="155.4" y="511.0">22</text><text x="169.8" y="511.0">21</text><text x="184.1" y="511.0">18</text><text x="198.5" y="511.0">23</text><text x="212.8" y="511.0">21</text><text x="227.2" y="511.0">14</text><text x="241.6" y="511.0">19</text><text x="255.9" y="511.0">17</text><text x="270.3" y="511.0">21</text><text x="284.6" y="511.0">19</text><text x="299.0" y="511.0">16</text><text x="313.3" y="511.0">20</text><text x="327.7" y="511.0">22</text><text x="342.1" y="511.0">25</text><text x="356.4" y="511.0">21</text><text x="370.8" y="511.0">22</text><text x="385.1" y="511.0">23</text><text x="399.5" y="511.0">22</text><text x="413.8" y="511.0">24</text><text x="428.2" y="511.0">16</text><text x="442.6" y="511.0">19</text><text x="456.9" y="511.0">20</text><text x="471.3" y="511.0">16</text><text x="485.6" y="511.0">17</text><text x="500.0" y="511.0">18</text><text x="514.3" y="511.0">20</text><text x="528.7" y="511.0">19</text><text x="543.1" y="511.0">13</text><text x="557.4" y="511.0">16</text><text x="571.8" y="511.0">19</text><text x="586.1" y="511.0">18</text><text x="600.5" y="511.0">18</text><text x="614.8" y="511.0">18</text><text x="629.2" y="511.0">16</text><text x="643.6" y="511.0">19</text><text x="657.9" y="511.0">20</text><text x="672.3" y="511.0">13</text><text x="701.0" y="511.0">20</text><text x="715.3" y="511.0">13</text><text x="744.1" y="511.0">33</text><text x="758.4" y="511.0">12</text><text x="772.8" y="511.0">15</text><text x="787.1" y="511.0">12</text><text x="801.5" y="511.0">17</text><text x="815.8" y="511.0">14</text><text x="830.2" y="511.0">18</text><text x="844.6" y="511.0">19</text><text x="858.9" y="511.0">20</text><text x="873.3" y="511.0">18</text><text x="887.6" y="511.0">23</text><text x="902.0" y="511.0">28</text><text x="916.3" y="511.0">22</text><text x="930.7" y="511.0">18</text><text x="945.1" y="511.0">21</text><text x="959.4" y="511.0">20</text><text x="973.8" y="511.0">26</text><text x="988.1" y="511.0">23</text><text x="1002.5" y="511.0">24</text><text x="1016.8" y="511.0">24</text><text x="1031.2" y="511.0">27</text><text x="1045.6" y="511.0">19</text><text x="1059.9" y="511.0">27</text><text x="1074.3" y="511.0">23</text>
<text x="62.7" y="184.0">15</text><text x="91.4" y="184.0">14</text><text x="120.1" y="184.0">14</text><text x="148.8" y="184.0">12</text><text x="436.0" y="184.0">14</text><text x="464.7" y="184.0">19</text><text x="493.4" y="184.0">16</text><text x="522.1" y="184.0">17</text><text x="579.5" y="184.0">22</text><text x="637.0" y="184.0">21</text><text x="665.7" y="184.0">27</text><text x="694.4" y="184.0">27</text><text x="723.1" y="184.0">26</text><text x="751.8" y="184.0">19</text><text x="780.5" y="184.0">21</text><text x="809.2" y="184.0">21</text><text x="838.0" y="184.0">17</text><text x="895.4" y="184.0">17</text><text x="924.1" y="184.0">21</text><text x="952.8" y="184.0">22</text><text x="981.5" y="184.0">19</text><text x="1010.2" y="184.0">23</text><text x="1039.0" y="184.0">17</text>
<text x="62.7" y="198.0">13</text><text x="91.4" y="198.0">13</text><text x="407.2" y="198.0">10</text><text x="436.0" y="198.0">11</text><text x="464.2" y="198.0">9</text><text x="493.4" y="198.0">10</text><text x="522.1" y="198.0">15</text><text x="550.8" y="198.0">18</text><text x="579.5" y="198.0">13</text><text x="723.1" y="198.0">22</text><text x="751.8" y="198.0">20</text><text x="780.5" y="198.0">19</text><text x="809.2" y="198.0">16</text><text x="838.0" y="198.0">19</text><text x="866.7" y="198.0">17</text><text x="895.4" y="198.0">17</text><text x="924.1" y="198.0">19</text><text x="952.8" y="198.0">19</text><text x="981.5" y="198.0">19</text><text x="1010.2" y="198.0">19</text>
<text x="349.4" y="212.0">9</text><text x="378.5" y="212.0">10</text><text x="407.2" y="212.0">11</text><text x="436.0" y="212.0">11</text><text x="464.7" y="212.0">10</text><text x="493.4" y="212.0">11</text><text x="522.1" y="212.0">13</text><text x="550.8" y="212.0">13</text><text x="579.5" y="212.0">16</text><text x="608.2" y="212.0">16</text><text x="723.1" y="212.0">20</text><text x="751.8" y="212.0">23</text><text x="780.5" y="212.0">14</text><text x="809.2" y="212.0">17</text><text x="838.0" y="212.0">14</text><text x="866.7" y="212.0">14</text><text x="895.4" y="212.0">16</text><text x="924.1" y="212.0">17</text><text x="952.8" y="212.0">18</text><text x="981.5" y="212.0">20</text><text x="1010.2" y="212.0">17</text><text x="1039.0" y="212.0">16</text><text x="1067.7" y="212.0">18</text>
<text x="349.4" y="226.0">9</text><text x="378.5" y="226.0">11</text><text x="407.2" y="226.0">10</text><text x="436.0" y="226.0">13</text><text x="464.7" y="226.0">14</text><text x="493.4" y="226.0">15</text><text x="522.1" y="226.0">15</text><text x="550.8" y="226.0">15</text><text x="579.5" y="226.0">17</text><text x="608.2" y="226.0">16</text><text x="637.0" y="226.0">13</text><text x="780.5" y="226.0">19</text><text x="838.0" y="226.0">15</text><text x="866.7" y="226.0">16</text><text x="895.4" y="226.0">20</text><text x="924.1" y="226.0">18</text><text x="952.8" y="226.0">18</text><text x="981.5" y="226.0">18</text><text x="1010.2" y="226.0">18</text><text x="1039.0" y="226.0">16</text>
<text x="62.7" y="526.0">19</text><text x="91.4" y="526.0">22</text><text x="120.1" y="526.0">19</text><text x="148.8" y="526.0">21</text><text x="177.5" y="526.0">23</text><text x="206.2" y="526.0">26</text><text x="235.0" y="526.0">22</text><text x="263.7" y="526.0">25</text><text x="292.4" y="526.0">24</text><text x="321.1" y="526.0">21</text><text x="349.8" y="526.0">26</text><text x="378.5" y="526.0">19</text><text x="407.2" y="526.0">22</text><text x="436.0" y="526.0">25</text><text x="464.7" y="526.0">24</text><text x="493.4" y="526.0">21</text><text x="522.1" y="526.0">21</text><text x="550.8" y="526.0">20</text><text x="579.5" y="526.0">13</text><text x="608.2" y="526.0">16</text><text x="637.0" y="526.0">17</text><text x="665.7" y="526.0">19</text><text x="694.4" y="526.0">19</text><text x="723.1" y="526.0">16</text><text x="751.8" y="526.0">15</text><text x="780.5" y="526.0">18</text><text x="809.2" y="526.0">18</text><text x="838.0" y="526.0">25</text><text x="866.7" y="526.0">26</text><text x="895.4" y="526.0">26</text><text x="924.1" y="526.0">25</text><text x="952.8" y="526.0">29</text><text x="981.5" y="526.0">22</text><text x="1010.2" y="526.0">18</text><text x="1039.0" y="526.0">27</text><text x="1067.7" y="526.0">29</text>
<text x="62.7" y="540.0">22</text><text x="91.4" y="540.0">25</text><text x="120.1" y="540.0">27</text><text x="148.8" y="540.0">26</text><text x="177.5" y="540.0">19</text><text x="206.2" y="540.0">20</text><text x="235.0" y="540.0">18</text><text x="263.7" y="540.0">26</text><text x="292.4" y="540.0">19</text><text x="321.1" y="540.0">24</text><text x="349.8" y="540.0">14</text><text x="378.5" y="540.0">25</text><text x="407.2" y="540.0">12</text><text x="436.0" y="540.0">16</text><text x="464.7" y="540.0">18</text><text x="493.4" y="540.0">20</text><text x="522.1" y="540.0">24</text><text x="550.8" y="540.0">22</text><text x="579.5" y="540.0">25</text><text x="665.7" y="540.0">12</text><text x="694.4" y="540.0">20</text><text x="723.1" y="540.0">18</text><text x="751.8" y="540.0">19</text><text x="780.5" y="540.0">15</text><text x="809.2" y="540.0">24</text><text x="838.0" y="540.0">27</text><text x="866.7" y="540.0">30</text><text x="895.4" y="540.0">25</text><text x="924.1" y="540.0">17</text><text x="952.8" y="540.0">34</text><text x="981.5" y="540.0">26</text><text x="1010.2" y="540.0">22</text><text x="1039.0" y="540.0">27</text><text x="1067.7" y="540.0">24</text>
<text x="62.7" y="554.0">26</text><text x="91.4" y="554.0">26</text><text x="120.1" y="554.0">16</text><text x="148.8" y="554.0">20</text><text x="177.5" y="554.0">17</text><text x="206.2" y="554.0">26</text><text x="235.0" y="554.0">21</text><text x="263.7" y="554.0">17</text><text x="292.4" y="554.0">20</text><text x="321.1" y="554.0">22</text><text x="349.8" y="554.0">17</text><text x="378.5" y="554.0">25</text><text x="407.2" y="554.0">15</text><text x="436.0" y="554.0">24</text><text x="464.7" y="554.0">17</text><text x="493.4" y="554.0">22</text><text x="522.1" y="554.0">18</text><text x="550.8" y="554.0">22</text><text x="579.5" y="554.0">30</text><text x="608.2" y="554.0">20</text><text x="637.0" y="554.0">23</text><text x="665.7" y="554.0">27</text><text x="694.4" y="554.0">29</text><text x="723.1" y="554.0">16</text><text x="751.8" y="554.0">32</text><text x="780.5" y="554.0">20</text><text x="809.2" y="554.0">17</text><text x="838.0" y="554.0">28</text><text x="866.7" y="554.0">33</text><text x="895.4" y="554.0">20</text><text x="924.1" y="554.0">19</text><text x="952.8" y="554.0">24</text><text x="981.5" y="554.0">25</text><text x="1010.2" y="554.0">26</text><text x="1039.0" y="554.0">31</text><text x="1067.7" y="554.0">24</text>
<text x="62.7" y="568.0">23</text><text x="91.4" y="568.0">24</text><text x="120.1" y="568.0">17</text><text x="148.8" y="568.0">16</text><text x="177.5" y="568.0">12</text><text x="206.2" y="568.0">11</text><text x="235.0" y="568.0">20</text><text x="263.7" y="568.0">18</text><text x="292.4" y="568.0">14</text><text x="349.8" y="568.0">17</text><text x="378.5" y="568.0">20</text><text x="407.2" y="568.0">22</text><text x="436.0" y="568.0">24</text><text x="464.7" y="568.0">12</text><text x="493.4" y="568.0">28</text><text x="522.1" y="568.0">16</text><text x="550.8" y="568.0">17</text><text x="579.5" y="568.0">21</text><text x="608.2" y="568.0">19</text><text x="637.0" y="568.0">18</text><text x="665.7" y="568.0">24</text><text x="694.4" y="568.0">23</text><text x="723.1" y="568.0">17</text><text x="751.8" y="568.0">30</text><text x="780.5" y="568.0">18</text><text x="809.2" y="568.0">19</text><text x="838.0" y="568.0">18</text><text x="866.7" y="568.0">11</text><text x="895.4" y="568.0">23</text><text x="924.1" y="568.0">15</text><text x="952.8" y="568.0">20</text><text x="981.5" y="568.0">19</text><text x="1010.2" y="568.0">16</text><text x="1039.0" y="568.0">20</text><text x="1067.7" y="568.0">21</text>
<text x="58.7" y="155.0">20</text><text x="105.6" y="155.0">18</text><text x="163.1" y="155.0">20</text><text x="220.5" y="155.0">16</text><text x="277.9" y="155.0">18</text><text x="335.3" y="155.0">16</text><text x="392.8" y="155.0">14</text><text x="450.2" y="155.0">13</text><text x="507.6" y="155.0">12</text><text x="564.6" y="155.0">8</text><text x="622.5" y="155.0">15</text><text x="679.9" y="155.0">14</text><text x="737.3" y="155.0">21</text><text x="794.8" y="155.0">13</text><text x="852.2" y="155.0">17</text><text x="967.1" y="155.0">17</text><text x="1024.5" y="155.0">19</text><text x="1074.0" y="155.0">20</text>
<text x="58.7" y="169.0">17</text><text x="105.6" y="169.0">15</text><text x="163.1" y="169.0">11</text><text x="220.5" y="169.0">12</text><text x="277.9" y="169.0">20</text><text x="335.3" y="169.0">16</text><text x="392.8" y="169.0">11</text><text x="450.2" y="169.0">12</text><text x="507.6" y="169.0">14</text><text x="565.1" y="169.0">14</text><text x="679.9" y="169.0">18</text><text x="737.3" y="169.0">20</text><text x="794.8" y="169.0">19</text><text x="852.2" y="169.0">18</text><text x="909.6" y="169.0">16</text><text x="967.1" y="169.0">17</text><text x="1024.5" y="169.0">20</text><text x="1074.0" y="169.0">17</text>
<text x="450.2" y="583.0">16</text><text x="507.6" y="583.0">12</text><text x="565.1" y="583.0">15</text><text x="622.5" y="583.0">13</text><text x="679.9" y="583.0">21</text><text x="737.3" y="583.0">19</text><text x="794.8" y="583.0">15</text><text x="852.2" y="583.0">17</text><text x="909.6" y="583.0">24</text><text x="967.1" y="583.0">18</text>
<text x="450.2" y="597.0">19</text><text x="507.6" y="597.0">14</text><text x="565.1" y="597.0">18</text><text x="852.2" y="597.0">26</text><text x="909.6" y="597.0">21</text>
<text x="134.3" y="141.0">17</text><text x="249.2" y="141.0">19</text><text x="364.1" y="141.0">10</text><text x="478.9" y="141.0">12</text><text x="593.8" y="141.0">16</text><text x="708.2" y="141.0">8</text><text x="823.5" y="141.0">16</text><text x="938.3" y="141.0">18</text><text x="1053.2" y="141.0">17</text>
<text x="995.9" y="126.0">14</text>
<text x="1135.5" y="126.0">14</text><text x="1135.5" y="141.0">15</text><text x="1135.5" y="155.0">16</text><text x="1135.5" y="169.0">16</text><text x="1135.5" y="184.0">19</text><text x="1135.5" y="198.0">17</text><text x="1135.5" y="212.0">15</text><text x="1135.5" y="226.0">15</text><text x="1135.5" y="241.0">15</text><text x="1135.5" y="255.0">16</text><text x="1135.5" y="269.0">16</text><text x="1135.5" y="283.0">16</text><text x="1135.5" y="298.0">14</text><text x="1135.5" y="312.0">13</text><text x="1135.5" y="326.0">14</text><text x="1135.5" y="340.0">16</text><text x="1135.5" y="355.0">22</text><text x="1135.5" y="369.0">20</text><text x="1135.5" y="383.0">17</text><text x="1135.5" y="397.0">17</text><text x="1135.5" y="412.0">17</text><text x="1135.5" y="426.0">16</text><text x="1135.5" y="440.0">17</text><text x="1135.5" y="454.0">17</text><text x="1135.5" y="469.0">18</text><text x="1135.5" y="483.0">17</text><text x="1135.5" y="497.0">18</text><text x="1135.5" y="511.0">20</text><text x="1135.5" y="526.0">22</text><text x="1135.5" y="540.0">22</text><text x="1135.5" y="554.0">23</text><text x="1135.5" y="568.0">19</text><text x="1135.5" y="583.0">17</text><text x="1135.5" y="597.0">19</text>
</g>
<g class="b">
<text x="28" y="119.1" text-anchor="end">90°N</text>
<text x="28" y="204.8" text-anchor="end">60°N</text>
<text x="28" y="290.4" text-anchor="end">30°N</text>
<text x="28" y="376.1" text-anchor="end">0°</text>
<text x="28" y="461.8" text-anchor="end">30°S</text>
<text x="28" y="547.4" text-anchor="end">60°S</text>
<text x="28" y="633.1" text-anchor="end">90°S</text>
<text x="45.3" y="654" text-anchor="middle">30°E</text>
<text x="118.6" y="654" text-anchor="middle">60°E</text>
<text x="192.0" y="654" text-anchor="middle">90°E</text>
<text x="265.3" y="654" text-anchor="middle">120°E</text>
<text x="338.7" y="654" text-anchor="middle">150°E</text>
<text x="412.1" y="654" text-anchor="middle">180°</text>
<text x="485.4" y="654" text-anchor="middle">150°W</text>
<text x="558.7" y="654" text-anchor="middle">120°W</text>
<text x="632.1" y="654" text-anchor="middle">90°W</text>
<text x="705.4" y="654" text-anchor="middle">60°W</text>
<text x="778.8" y="654" text-anchor="middle">30°W</text>
<text x="852.1" y="654" text-anchor="middle">0°</text>
<text x="925.5" y="654" text-anchor="middle">30°E</text>
</g>
<text x="486" y="28" text-anchor="middle" style="font-weight:bold;font-size:18px">Altocumulus</text>
<text x="391.3" y="49.7" style="font-weight:bold;font-size:14px;letter-spacing:0.43px">Average Cloud Amount (%)</text>
<text x="45" y="98.8" style="font-size:13.3px;letter-spacing:-0.25px">Annual (1954 - 1997)</text>
<text x="926.5" y="98.8" text-anchor="end" style="font-size:13.3px;letter-spacing:-0.2px">Ship Observations Only</text>
<text x="975.3" y="97" text-anchor="middle" style="font-size:9.33px">ZONAL</text>
<text x="976.6" y="110" text-anchor="middle" style="font-size:9.33px">AVERAGE</text>
<text x="391.3" y="686" style="font-size:10.67px;white-space:pre" xml:space="preserve">GLOBAL AVERAGE (OCEAN)   17.5 %</text>
<text x="485.3" y="719.6" text-anchor="middle" style="font-size:13.2px">(File name = 12_OMAA.mh, MGRP = 12011, TYPE = 23, PCODE = 1, SN = 0)</text>
</svg>
</body></html>
